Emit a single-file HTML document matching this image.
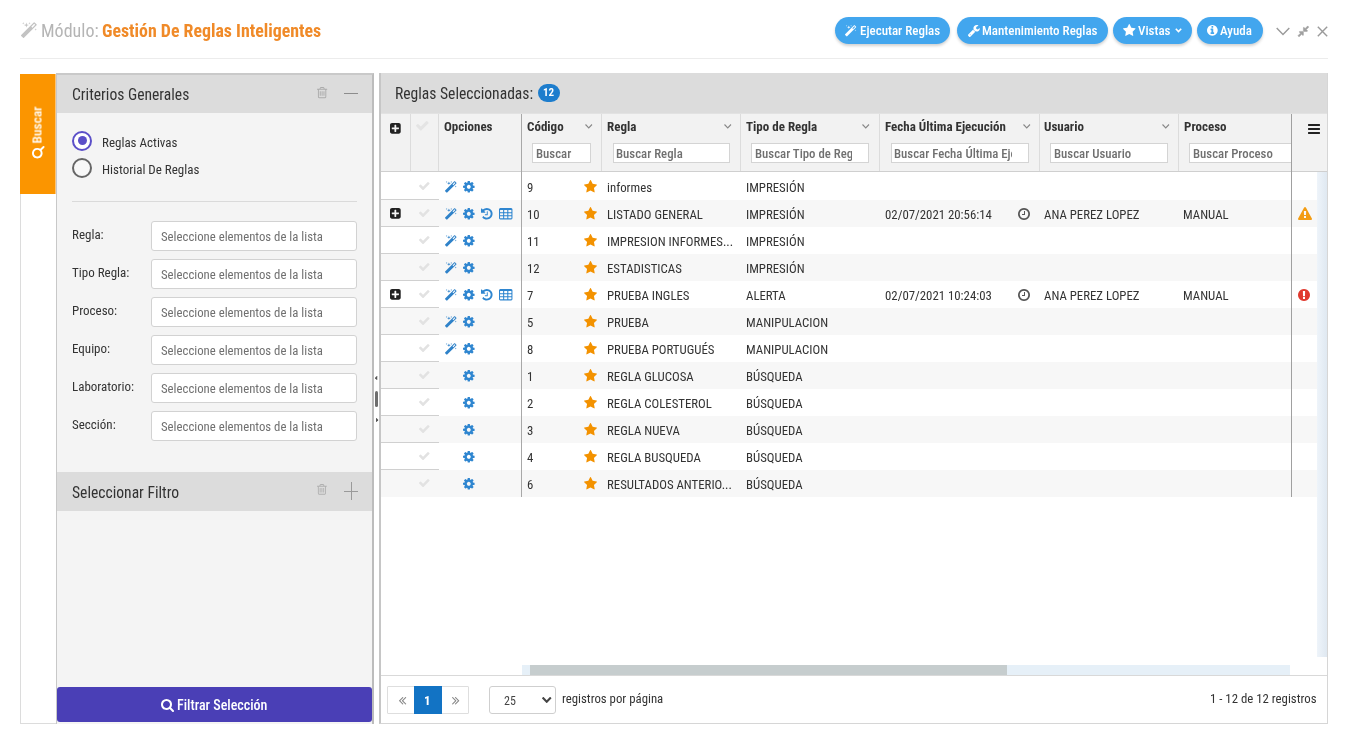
<!DOCTYPE html>
<html lang="es"><head><meta charset="utf-8"><title>Gestión De Reglas Inteligentes</title>
<style>
*{box-sizing:border-box;margin:0;padding:0}
html,body{width:1348px;height:742px;overflow:hidden;background:#fff}
body{position:relative;font-family:"Roboto Condensed", "Liberation Sans", Arial, sans-serif;color:#333}
.t{position:absolute;white-space:nowrap;will-change:transform}
.b{position:absolute}
.i{position:absolute;overflow:visible}
</style></head>
<body>
<svg class="i" style="left:20.60px;top:21.50px;width:15.99px;height:15.99px;" viewBox="27.0 -1536 1637.0 1637.0" preserveAspectRatio="none"><path fill="#c3c3c3"  transform="scale(1,-1)" d="M1190 955 1483 1248 1376 1355 1083 1062ZM1619 1203 333 -83Q315 -101 288.0 -101.0Q261 -101 243 -83L45 115Q27 133 27.0 160.0Q27 187 45 205L1331 1491Q1349 1509 1376.0 1509.0Q1403 1509 1421 1491L1619 1293Q1637 1275 1637.0 1248.0Q1637 1221 1619 1203ZM286 1438 384 1408 286 1378 256 1280 226 1378 128 1408 226 1438 256 1536ZM636 1276 832 1216 636 1156 576 960 516 1156 320 1216 516 1276 576 1472ZM1566 798 1664 768 1566 738 1536 640 1506 738 1408 768 1506 798 1536 896ZM926 1438 1024 1408 926 1378 896 1280 866 1378 768 1408 866 1438 896 1536Z"/></svg>
<div class="t" style="left:41.20px;top:17.05px;font-size:18px;line-height:27px;color:#b5b5b5;font-weight:400;">Módulo:</div>
<div class="t" style="left:102.40px;top:17.10px;font-size:17.85px;line-height:27px;color:#f08a28;font-weight:700;">Gestión De Reglas Inteligentes</div>
<div class="b" style="left:20px;top:58px;width:1308px;height:1px;background:#ececec"></div>
<div class="b" style="left:835px;top:17px;width:115px;height:27px;background:#42a6ee;border-radius:14px;box-shadow:0 2px 3px rgba(0,0,0,.18)"></div>
<svg class="i" style="left:845.00px;top:25.00px;width:11.42px;height:11.42px;" viewBox="27.0 -1536 1637.0 1637.0" preserveAspectRatio="none"><path fill="#fff"  transform="scale(1,-1)" d="M1190 955 1483 1248 1376 1355 1083 1062ZM1619 1203 333 -83Q315 -101 288.0 -101.0Q261 -101 243 -83L45 115Q27 133 27.0 160.0Q27 187 45 205L1331 1491Q1349 1509 1376.0 1509.0Q1403 1509 1421 1491L1619 1293Q1637 1275 1637.0 1248.0Q1637 1221 1619 1203ZM286 1438 384 1408 286 1378 256 1280 226 1378 128 1408 226 1438 256 1536ZM636 1276 832 1216 636 1156 576 960 516 1156 320 1216 516 1276 576 1472ZM1566 798 1664 768 1566 738 1536 640 1506 738 1408 768 1506 798 1536 896ZM926 1438 1024 1408 926 1378 896 1280 866 1378 768 1408 866 1438 896 1536Z"/></svg>
<div class="t" style="left:860.00px;top:21.36px;font-size:13px;line-height:20px;color:#fff;font-weight:500;">Ejecutar Reglas</div>
<div class="b" style="left:957px;top:17px;width:151px;height:27px;background:#42a6ee;border-radius:14px;box-shadow:0 2px 3px rgba(0,0,0,.18)"></div>
<svg class="i" style="left:967.70px;top:25.00px;width:11.90px;height:11.92px;" viewBox="21 -1408 1641 1643" preserveAspectRatio="none"><path fill="#fff"  transform="scale(1,-1)" d="M365.0 19.0Q384 38 384.0 64.0Q384 90 365.0 109.0Q346 128 320.0 128.0Q294 128 275.0 109.0Q256 90 256.0 64.0Q256 38 275.0 19.0Q294 0 320.0 0.0Q346 0 365.0 19.0ZM1028 484 346 -198Q309 -235 256 -235Q204 -235 165 -198L59 -90Q21 -54 21 0Q21 53 59 91L740 772Q779 674 854.5 598.5Q930 523 1028 484ZM1662 919Q1662 880 1639 813Q1592 679 1474.5 595.5Q1357 512 1216 512Q1031 512 899.5 643.5Q768 775 768.0 960.0Q768 1145 899.5 1276.5Q1031 1408 1216 1408Q1274 1408 1337.5 1391.5Q1401 1375 1445 1345Q1461 1334 1461.0 1317.0Q1461 1300 1445 1289L1152 1120V896L1345 789Q1350 792 1424.0 837.5Q1498 883 1559.5 918.5Q1621 954 1630 954Q1645 954 1653.5 944.0Q1662 934 1662 919Z"/></svg>
<div class="t" style="left:982.30px;top:21.36px;font-size:13px;line-height:20px;color:#fff;font-weight:500;">Mantenimiento Reglas</div>
<div class="b" style="left:1113px;top:17px;width:79px;height:27px;background:#42a6ee;border-radius:14px;box-shadow:0 2px 3px rgba(0,0,0,.18)"></div>
<svg class="i" style="left:1122.70px;top:23.90px;width:12.54px;height:11.96px;" viewBox="0 -1504.0 1664 1587.0" preserveAspectRatio="none"><path fill="#fff"  transform="scale(1,-1)" d="M1664 889Q1664 867 1638 841L1275 487L1361 -13Q1362 -20 1362 -33Q1362 -54 1351.5 -68.5Q1341 -83 1321 -83Q1302 -83 1281 -71L832 165L383 -71Q361 -83 343 -83Q322 -83 311.5 -68.5Q301 -54 301 -33Q301 -27 303 -13L389 487L25 841Q0 868 0 889Q0 926 56 935L558 1008L783 1463Q802 1504 832.0 1504.0Q862 1504 881 1463L1106 1008L1608 935Q1664 926 1664 889Z"/></svg>
<div class="t" style="left:1137.70px;top:21.36px;font-size:13px;line-height:20px;color:#fff;font-weight:500;">Vistas</div>
<div class="b" style="left:1197px;top:17px;width:66px;height:27px;background:#42a6ee;border-radius:14px;box-shadow:0 2px 3px rgba(0,0,0,.18)"></div>
<svg class="i" style="left:1206.50px;top:25.40px;width:10.71px;height:10.71px;" viewBox="0.0 -1408.0 1536.0 1536.0" preserveAspectRatio="none"><path fill="#fff"  transform="scale(1,-1)" d="M1024 160V320Q1024 334 1015.0 343.0Q1006 352 992 352H896V864Q896 878 887.0 887.0Q878 896 864 896H544Q530 896 521.0 887.0Q512 878 512 864V704Q512 690 521.0 681.0Q530 672 544 672H640V352H544Q530 352 521.0 343.0Q512 334 512 320V160Q512 146 521.0 137.0Q530 128 544 128H992Q1006 128 1015.0 137.0Q1024 146 1024 160ZM896 1056V1216Q896 1230 887.0 1239.0Q878 1248 864 1248H672Q658 1248 649.0 1239.0Q640 1230 640 1216V1056Q640 1042 649.0 1033.0Q658 1024 672 1024H864Q878 1024 887.0 1033.0Q896 1042 896 1056ZM1433.0 1025.5Q1536 849 1536.0 640.0Q1536 431 1433.0 254.5Q1330 78 1153.5 -25.0Q977 -128 768.0 -128.0Q559 -128 382.5 -25.0Q206 78 103.0 254.5Q0 431 0.0 640.0Q0 849 103.0 1025.5Q206 1202 382.5 1305.0Q559 1408 768.0 1408.0Q977 1408 1153.5 1305.0Q1330 1202 1433.0 1025.5Z"/></svg>
<div class="t" style="left:1220.30px;top:21.36px;font-size:13px;line-height:20px;color:#fff;font-weight:500;">Ayuda</div>
<svg class="i" style="left:1175px;top:28px;width:7px;height:5px" viewBox="0 0 7 5"><polyline points="0.8,0.8 3.5,3.6 6.2,0.8" fill="none" stroke="#fff" stroke-width="1.6"/></svg>
<svg class="i" style="left:1276px;top:27px;width:14px;height:9px" viewBox="0 0 14 9"><polyline points="0.7,1 7,7.5 13.3,1" fill="none" stroke="#9a9a9a" stroke-width="1.4"/></svg>
<svg class="i" style="left:1298.30px;top:26.20px;width:10.79px;height:10.79px;" viewBox="13.0 -1395.0 1510.0 1510.0" preserveAspectRatio="none"><path fill="#a0a0a0" stroke="#a0a0a0" stroke-width="70" stroke-linejoin="round" transform="scale(1,-1)" d="M768 576V128Q768 102 749.0 83.0Q730 64 704.0 64.0Q678 64 659 83L515 227L183 -105Q173 -115 160.0 -115.0Q147 -115 137 -105L23 9Q13 19 13.0 32.0Q13 45 23 55L355 387L211 531Q192 550 192.0 576.0Q192 602 211.0 621.0Q230 640 256 640H704Q730 640 749.0 621.0Q768 602 768 576ZM1513 1225 1181 893 1325 749Q1344 730 1344.0 704.0Q1344 678 1325.0 659.0Q1306 640 1280 640H832Q806 640 787.0 659.0Q768 678 768 704V1152Q768 1178 787.0 1197.0Q806 1216 832.0 1216.0Q858 1216 877 1197L1021 1053L1353 1385Q1363 1395 1376.0 1395.0Q1389 1395 1399 1385L1513 1271Q1523 1261 1523.0 1248.0Q1523 1235 1513 1225Z"/></svg>
<svg class="i" style="left:1317px;top:26px;width:11px;height:11px" viewBox="0 0 11 11"><path d="M0.8,0.8 L10.2,10.2 M10.2,0.8 L0.8,10.2" fill="none" stroke="#9a9a9a" stroke-width="1.4"/></svg>
<div class="b" style="left:20px;top:74px;width:36px;height:120px;background:#fb9500;border-right:1px solid #fcc57a"></div>
<div class="t" style="left:37.2px;top:125px;font-size:13.5px;line-height:13px;color:#fff;font-weight:500;transform:translate(-50%,-50%) rotate(-90deg);">Buscar</div>
<svg class="i" style="left:32.00px;top:146.00px;width:12.54px;height:12.54px;transform:rotate(-90deg)" viewBox="0.0 -1408.0 1664.0 1664.0" preserveAspectRatio="none"><path fill="#fff"  transform="scale(1,-1)" d="M1020.5 387.5Q1152 519 1152.0 704.0Q1152 889 1020.5 1020.5Q889 1152 704.0 1152.0Q519 1152 387.5 1020.5Q256 889 256.0 704.0Q256 519 387.5 387.5Q519 256 704.0 256.0Q889 256 1020.5 387.5ZM1664 -128Q1664 -180 1626.0 -218.0Q1588 -256 1536 -256Q1482 -256 1446 -218L1103 124Q924 0 704 0Q561 0 430.5 55.5Q300 111 205.5 205.5Q111 300 55.5 430.5Q0 561 0.0 704.0Q0 847 55.5 977.5Q111 1108 205.5 1202.5Q300 1297 430.5 1352.5Q561 1408 704.0 1408.0Q847 1408 977.5 1352.5Q1108 1297 1202.5 1202.5Q1297 1108 1352.5 977.5Q1408 847 1408 704Q1408 484 1284 305L1627 -38Q1664 -75 1664 -128Z"/></svg>
<div class="b" style="left:20px;top:194px;width:36px;height:530px;border-left:1px solid #dcdcdc;border-bottom:1px solid #dcdcdc"></div>
<div class="b" style="left:56px;top:73px;width:318px;height:651px;background:#f4f4f4;border-left:1px solid #c8c8c8;border-right:2px solid #bcbcbc;border-top:2px solid #c9c9c9"></div>
<div class="b" style="left:57px;top:75px;width:315px;height:38px;background:#dcdcdc"></div>
<div class="t" style="left:71.80px;top:83.57px;font-size:15.6px;line-height:23px;color:#333;font-weight:400;">Criterios Generales</div>
<svg class="i" style="left:316.80px;top:87.30px;width:10.21px;height:11.14px;" viewBox="0 -1408 1408 1536" preserveAspectRatio="none"><path fill="#ababab"  transform="scale(1,-1)" d="M512 800V224Q512 210 503.0 201.0Q494 192 480 192H416Q402 192 393.0 201.0Q384 210 384 224V800Q384 814 393.0 823.0Q402 832 416 832H480Q494 832 503.0 823.0Q512 814 512 800ZM768 800V224Q768 210 759.0 201.0Q750 192 736 192H672Q658 192 649.0 201.0Q640 210 640 224V800Q640 814 649.0 823.0Q658 832 672 832H736Q750 832 759.0 823.0Q768 814 768 800ZM1024 800V224Q1024 210 1015.0 201.0Q1006 192 992 192H928Q914 192 905.0 201.0Q896 210 896 224V800Q896 814 905.0 823.0Q914 832 928 832H992Q1006 832 1015.0 823.0Q1024 814 1024 800ZM1152 76V1024H256V76Q256 54 263.0 35.5Q270 17 277.5 8.5Q285 0 288 0H1120Q1123 0 1130.5 8.5Q1138 17 1145.0 35.5Q1152 54 1152 76ZM480 1152H928L880 1269Q873 1278 863 1280H546Q536 1278 529 1269ZM1408 1120V1056Q1408 1042 1399.0 1033.0Q1390 1024 1376 1024H1280V76Q1280 -7 1233.0 -67.5Q1186 -128 1120 -128H288Q222 -128 175.0 -69.5Q128 -11 128 72V1024H32Q18 1024 9.0 1033.0Q0 1042 0 1056V1120Q0 1134 9.0 1143.0Q18 1152 32 1152H341L411 1319Q426 1356 465.0 1382.0Q504 1408 544 1408H864Q904 1408 943.0 1382.0Q982 1356 997 1319L1067 1152H1376Q1390 1152 1399.0 1143.0Q1408 1134 1408 1120Z"/></svg>
<div class="b" style="left:344px;top:93px;width:14px;height:1px;background:#8c8c8c"></div>
<div class="b" style="left:72px;top:130.6px;width:20px;height:20px;border:2px solid #5b4fc8;border-radius:50%;background:#fff"></div>
<div class="b" style="left:77.5px;top:136.1px;width:9px;height:9px;background:#5b4fc8;border-radius:50%"></div>
<div class="t" style="left:101.80px;top:132.56px;font-size:13px;line-height:20px;color:#333;font-weight:400;">Reglas Activas</div>
<div class="b" style="left:72px;top:158px;width:20px;height:20px;border:2px solid #666;border-radius:50%;background:#f8f8f8"></div>
<div class="t" style="left:101.80px;top:159.76px;font-size:13px;line-height:20px;color:#333;font-weight:400;">Historial De Reglas</div>
<div class="b" style="left:72px;top:201px;width:285px;height:1px;background:#dadada"></div>
<div class="t" style="left:71.60px;top:225.46px;font-size:13px;line-height:20px;color:#333;font-weight:400;">Regla:</div>
<div class="b" style="left:151px;top:221px;width:206px;height:30px;background:#fff;border:1px solid #d2d2d2;border-radius:3px"></div>
<div class="t" style="left:160.60px;top:227.24px;font-size:12.75px;line-height:19px;color:#707070;font-weight:400;">Seleccione elementos de la lista</div>
<div class="t" style="left:71.60px;top:263.46px;font-size:13px;line-height:20px;color:#333;font-weight:400;">Tipo Regla:</div>
<div class="b" style="left:151px;top:259px;width:206px;height:30px;background:#fff;border:1px solid #d2d2d2;border-radius:3px"></div>
<div class="t" style="left:160.60px;top:265.24px;font-size:12.75px;line-height:19px;color:#707070;font-weight:400;">Seleccione elementos de la lista</div>
<div class="t" style="left:71.60px;top:301.46px;font-size:13px;line-height:20px;color:#333;font-weight:400;">Proceso:</div>
<div class="b" style="left:151px;top:297px;width:206px;height:30px;background:#fff;border:1px solid #d2d2d2;border-radius:3px"></div>
<div class="t" style="left:160.60px;top:303.24px;font-size:12.75px;line-height:19px;color:#707070;font-weight:400;">Seleccione elementos de la lista</div>
<div class="t" style="left:71.60px;top:339.46px;font-size:13px;line-height:20px;color:#333;font-weight:400;">Equipo:</div>
<div class="b" style="left:151px;top:335px;width:206px;height:30px;background:#fff;border:1px solid #d2d2d2;border-radius:3px"></div>
<div class="t" style="left:160.60px;top:341.24px;font-size:12.75px;line-height:19px;color:#707070;font-weight:400;">Seleccione elementos de la lista</div>
<div class="t" style="left:71.60px;top:377.46px;font-size:13px;line-height:20px;color:#333;font-weight:400;">Laboratorio:</div>
<div class="b" style="left:151px;top:373px;width:206px;height:30px;background:#fff;border:1px solid #d2d2d2;border-radius:3px"></div>
<div class="t" style="left:160.60px;top:379.24px;font-size:12.75px;line-height:19px;color:#707070;font-weight:400;">Seleccione elementos de la lista</div>
<div class="t" style="left:71.60px;top:415.46px;font-size:13px;line-height:20px;color:#333;font-weight:400;">Sección:</div>
<div class="b" style="left:151px;top:411px;width:206px;height:30px;background:#fff;border:1px solid #d2d2d2;border-radius:3px"></div>
<div class="t" style="left:160.60px;top:417.24px;font-size:12.75px;line-height:19px;color:#707070;font-weight:400;">Seleccione elementos de la lista</div>
<div class="b" style="left:57px;top:472px;width:315px;height:38.5px;background:#dcdcdc"></div>
<div class="t" style="left:71.80px;top:481.67px;font-size:15.6px;line-height:23px;color:#333;font-weight:400;">Seleccionar Filtro</div>
<svg class="i" style="left:316.70px;top:484.30px;width:9.82px;height:10.71px;" viewBox="0 -1408 1408 1536" preserveAspectRatio="none"><path fill="#b0b0b0"  transform="scale(1,-1)" d="M512 800V224Q512 210 503.0 201.0Q494 192 480 192H416Q402 192 393.0 201.0Q384 210 384 224V800Q384 814 393.0 823.0Q402 832 416 832H480Q494 832 503.0 823.0Q512 814 512 800ZM768 800V224Q768 210 759.0 201.0Q750 192 736 192H672Q658 192 649.0 201.0Q640 210 640 224V800Q640 814 649.0 823.0Q658 832 672 832H736Q750 832 759.0 823.0Q768 814 768 800ZM1024 800V224Q1024 210 1015.0 201.0Q1006 192 992 192H928Q914 192 905.0 201.0Q896 210 896 224V800Q896 814 905.0 823.0Q914 832 928 832H992Q1006 832 1015.0 823.0Q1024 814 1024 800ZM1152 76V1024H256V76Q256 54 263.0 35.5Q270 17 277.5 8.5Q285 0 288 0H1120Q1123 0 1130.5 8.5Q1138 17 1145.0 35.5Q1152 54 1152 76ZM480 1152H928L880 1269Q873 1278 863 1280H546Q536 1278 529 1269ZM1408 1120V1056Q1408 1042 1399.0 1033.0Q1390 1024 1376 1024H1280V76Q1280 -7 1233.0 -67.5Q1186 -128 1120 -128H288Q222 -128 175.0 -69.5Q128 -11 128 72V1024H32Q18 1024 9.0 1033.0Q0 1042 0 1056V1120Q0 1134 9.0 1143.0Q18 1152 32 1152H341L411 1319Q426 1356 465.0 1382.0Q504 1408 544 1408H864Q904 1408 943.0 1382.0Q982 1356 997 1319L1067 1152H1376Q1390 1152 1399.0 1143.0Q1408 1134 1408 1120Z"/></svg>
<div class="b" style="left:344px;top:491px;width:14px;height:1px;background:#9a9a9a"></div>
<div class="b" style="left:350.5px;top:482px;width:1px;height:18px;background:#9a9a9a"></div>
<div class="b" style="left:57px;top:687px;width:315px;height:35px;background:#4a3fb6;border-radius:3px"></div>
<svg class="i" style="left:160.70px;top:699.20px;width:13.00px;height:13.00px;" viewBox="0.0 -1408.0 1664.0 1664.0" preserveAspectRatio="none"><path fill="#fff"  transform="scale(1,-1)" d="M1020.5 387.5Q1152 519 1152.0 704.0Q1152 889 1020.5 1020.5Q889 1152 704.0 1152.0Q519 1152 387.5 1020.5Q256 889 256.0 704.0Q256 519 387.5 387.5Q519 256 704.0 256.0Q889 256 1020.5 387.5ZM1664 -128Q1664 -180 1626.0 -218.0Q1588 -256 1536 -256Q1482 -256 1446 -218L1103 124Q924 0 704 0Q561 0 430.5 55.5Q300 111 205.5 205.5Q111 300 55.5 430.5Q0 561 0.0 704.0Q0 847 55.5 977.5Q111 1108 205.5 1202.5Q300 1297 430.5 1352.5Q561 1408 704.0 1408.0Q847 1408 977.5 1352.5Q1108 1297 1202.5 1202.5Q1297 1108 1352.5 977.5Q1408 847 1408 704Q1408 484 1284 305L1627 -38Q1664 -75 1664 -128Z"/></svg>
<div class="t" style="left:177.20px;top:695.01px;font-size:14px;line-height:21px;color:#fff;font-weight:500;">Filtrar Selección</div>
<svg class="i" style="left:375.00px;top:376.00px;width:2.25px;height:4.00px;" viewBox="64.0 -1152.0 576.0 1024.0" preserveAspectRatio="none"><path fill="#555"  transform="scale(1,-1)" d="M640 1088V192Q640 166 621.0 147.0Q602 128 576.0 128.0Q550 128 531 147L83 595Q64 614 64.0 640.0Q64 666 83 685L531 1133Q550 1152 576.0 1152.0Q602 1152 621.0 1133.0Q640 1114 640 1088Z"/></svg>
<div class="b" style="left:375px;top:391px;width:3px;height:16px;background:#6e6e6e;border-radius:2px"></div>
<svg class="i" style="left:375.50px;top:417.50px;width:2.25px;height:4.00px;" viewBox="0 -1152.0 576.0 1024.0" preserveAspectRatio="none"><path fill="#555"  transform="scale(1,-1)" d="M557 595 109 147Q90 128 64.0 128.0Q38 128 19.0 147.0Q0 166 0 192V1088Q0 1114 19.0 1133.0Q38 1152 64.0 1152.0Q90 1152 109 1133L557 685Q576 666 576.0 640.0Q576 614 557 595Z"/></svg>
<div class="b" style="left:379px;top:73px;width:949px;height:651px;background:#fff;border-left:2px solid #c6c6c6;border-right:1px solid #d6d6d6;border-bottom:1px solid #d6d6d6"></div>
<div class="b" style="left:381px;top:73px;width:946px;height:40px;background:#dcdcdc"></div>
<div class="t" style="left:394.80px;top:83.27px;font-size:15.6px;line-height:23px;color:#333;font-weight:400;">Reglas Seleccionadas:</div>
<div class="b" style="left:538px;top:84px;width:22px;height:18px;background:#1d7dcd;border-radius:9px"></div>
<div class="t" style="left:543.20px;top:85.44px;font-size:11px;line-height:16px;color:#fff;font-weight:700;">12</div>
<div class="b" style="left:381px;top:113px;width:946px;height:59px;background:#f2f2f2;border-top:1px solid #e2e2e2;border-bottom:1px solid #cfcfcf"></div>
<div class="b" style="left:410px;top:114px;width:1px;height:57px;background:#dcdcdc"></div>
<div class="b" style="left:438px;top:114px;width:1px;height:57px;background:#dcdcdc"></div>
<div class="b" style="left:601px;top:114px;width:1px;height:57px;background:#dcdcdc"></div>
<div class="b" style="left:740px;top:114px;width:1px;height:57px;background:#dcdcdc"></div>
<div class="b" style="left:879px;top:114px;width:1px;height:57px;background:#dcdcdc"></div>
<div class="b" style="left:1039px;top:114px;width:1px;height:57px;background:#dcdcdc"></div>
<div class="b" style="left:1178px;top:114px;width:1px;height:57px;background:#dcdcdc"></div>
<div class="t" style="left:444.00px;top:116.56px;font-size:13px;line-height:20px;color:#333;font-weight:700;">Opciones</div>
<div class="t" style="left:527.00px;top:116.56px;font-size:13px;line-height:20px;color:#333;font-weight:700;">Código</div>
<div class="t" style="left:606.60px;top:116.56px;font-size:13px;line-height:20px;color:#333;font-weight:700;">Regla</div>
<div class="t" style="left:746.40px;top:116.56px;font-size:13px;line-height:20px;color:#333;font-weight:700;">Tipo de Regla</div>
<div class="t" style="left:884.80px;top:116.56px;font-size:13px;line-height:20px;color:#333;font-weight:700;">Fecha Última Ejecución</div>
<div class="t" style="left:1044.40px;top:116.56px;font-size:13px;line-height:20px;color:#333;font-weight:700;">Usuario</div>
<div class="t" style="left:1183.60px;top:116.56px;font-size:13px;line-height:20px;color:#333;font-weight:700;">Proceso</div>
<svg class="i" style="left:584.5px;top:124px;width:7.5px;height:4.5px" viewBox="0 0 7.5 4.5"><polyline points="0.5,0.5 3.75,3.9 7,0.5" fill="none" stroke="#888" stroke-width="1.1"/></svg>
<svg class="i" style="left:723.5px;top:124px;width:7.5px;height:4.5px" viewBox="0 0 7.5 4.5"><polyline points="0.5,0.5 3.75,3.9 7,0.5" fill="none" stroke="#888" stroke-width="1.1"/></svg>
<svg class="i" style="left:862.3px;top:124px;width:7.5px;height:4.5px" viewBox="0 0 7.5 4.5"><polyline points="0.5,0.5 3.75,3.9 7,0.5" fill="none" stroke="#888" stroke-width="1.1"/></svg>
<svg class="i" style="left:1022.5px;top:124px;width:7.5px;height:4.5px" viewBox="0 0 7.5 4.5"><polyline points="0.5,0.5 3.75,3.9 7,0.5" fill="none" stroke="#888" stroke-width="1.1"/></svg>
<svg class="i" style="left:1161.5px;top:124px;width:7.5px;height:4.5px" viewBox="0 0 7.5 4.5"><polyline points="0.5,0.5 3.75,3.9 7,0.5" fill="none" stroke="#888" stroke-width="1.1"/></svg>
<div class="b" style="left:532px;top:143px;width:59px;height:20px;background:#fff;border:1px solid #d4d4d4;overflow:hidden"><div class="b" style="left:0;top:0;width:41px;height:18px;overflow:hidden"><div class="t" style="left:2.5px;top:-1px;font-size:12.8px;line-height:22px;color:#707070;font-weight:500">Buscar</div></div></div>
<div class="b" style="left:612.5px;top:143px;width:117.5px;height:20px;background:#fff;border:1px solid #d4d4d4;overflow:hidden"><div class="b" style="left:0;top:0;width:99.5px;height:18px;overflow:hidden"><div class="t" style="left:2.5px;top:-1px;font-size:12.8px;line-height:22px;color:#707070;font-weight:500">Buscar Regla</div></div></div>
<div class="b" style="left:751px;top:143px;width:118px;height:20px;background:#fff;border:1px solid #d4d4d4;overflow:hidden"><div class="b" style="left:0;top:0;width:100px;height:18px;overflow:hidden"><div class="t" style="left:2.5px;top:-1px;font-size:12.8px;line-height:22px;color:#707070;font-weight:500">Buscar Tipo de Regla</div></div></div>
<div class="b" style="left:890.5px;top:143px;width:138.5px;height:20px;background:#fff;border:1px solid #d4d4d4;overflow:hidden"><div class="b" style="left:0;top:0;width:120.5px;height:18px;overflow:hidden"><div class="t" style="left:2.5px;top:-1px;font-size:12.8px;line-height:22px;color:#707070;font-weight:500">Buscar Fecha Última Ejecución</div></div></div>
<div class="b" style="left:1050px;top:143px;width:118px;height:20px;background:#fff;border:1px solid #d4d4d4;overflow:hidden"><div class="b" style="left:0;top:0;width:100px;height:18px;overflow:hidden"><div class="t" style="left:2.5px;top:-1px;font-size:12.8px;line-height:22px;color:#707070;font-weight:500">Buscar Usuario</div></div></div>
<div class="b" style="left:1189px;top:143px;width:121px;height:20px;background:#fff;border:1px solid #d4d4d4;overflow:hidden"><div class="b" style="left:0;top:0;width:103px;height:18px;overflow:hidden"><div class="t" style="left:2.5px;top:-1px;font-size:12.8px;line-height:22px;color:#707070;font-weight:500">Buscar Proceso</div></div></div>
<svg class="i" style="left:390.00px;top:123.00px;width:10.71px;height:10.71px;" viewBox="0 -1408 1536 1536" preserveAspectRatio="none"><path fill="#222"  transform="scale(1,-1)" d="M1280 576V704Q1280 730 1261.0 749.0Q1242 768 1216 768H896V1088Q896 1114 877.0 1133.0Q858 1152 832 1152H704Q678 1152 659.0 1133.0Q640 1114 640 1088V768H320Q294 768 275.0 749.0Q256 730 256 704V576Q256 550 275.0 531.0Q294 512 320 512H640V192Q640 166 659.0 147.0Q678 128 704 128H832Q858 128 877.0 147.0Q896 166 896 192V512H1216Q1242 512 1261.0 531.0Q1280 550 1280 576ZM1536 1120V160Q1536 41 1451.5 -43.5Q1367 -128 1248 -128H288Q169 -128 84.5 -43.5Q0 41 0 160V1120Q0 1239 84.5 1323.5Q169 1408 288 1408H1248Q1367 1408 1451.5 1323.5Q1536 1239 1536 1120Z"/></svg>
<svg class="i" style="left:416.30px;top:120.90px;width:12.54px;height:9.61px;" viewBox="121.0 -1202.0 1550.0 1188.0" preserveAspectRatio="none"><path fill="#e4e4e4"  transform="scale(1,-1)" d="M1643 902 919 178 783 42Q755 14 715.0 14.0Q675 14 647 42L511 178L149 540Q121 568 121.0 608.0Q121 648 149 676L285 812Q313 840 353.0 840.0Q393 840 421 812L715 517L1371 1174Q1399 1202 1439.0 1202.0Q1479 1202 1507 1174L1643 1038Q1671 1010 1671.0 970.0Q1671 930 1643 902Z"/></svg>
<div class="b" style="left:381px;top:199px;width:58px;height:1px;background:#d0d0d0"></div>
<svg class="i" style="left:419.20px;top:181.80px;width:10.55px;height:8.09px;" viewBox="121.0 -1202.0 1550.0 1188.0" preserveAspectRatio="none"><path fill="#e2e2e2"  transform="scale(1,-1)" d="M1643 902 919 178 783 42Q755 14 715.0 14.0Q675 14 647 42L511 178L149 540Q121 568 121.0 608.0Q121 648 149 676L285 812Q313 840 353.0 840.0Q393 840 421 812L715 517L1371 1174Q1399 1202 1439.0 1202.0Q1479 1202 1507 1174L1643 1038Q1671 1010 1671.0 970.0Q1671 930 1643 902Z"/></svg>
<svg class="i" style="left:445.30px;top:181.00px;width:11.69px;height:11.69px;" viewBox="27.0 -1536 1637.0 1637.0" preserveAspectRatio="none"><path fill="#2f82c9"  transform="scale(1,-1)" d="M1190 955 1483 1248 1376 1355 1083 1062ZM1619 1203 333 -83Q315 -101 288.0 -101.0Q261 -101 243 -83L45 115Q27 133 27.0 160.0Q27 187 45 205L1331 1491Q1349 1509 1376.0 1509.0Q1403 1509 1421 1491L1619 1293Q1637 1275 1637.0 1248.0Q1637 1221 1619 1203ZM286 1438 384 1408 286 1378 256 1280 226 1378 128 1408 226 1438 256 1536ZM636 1276 832 1216 636 1156 576 960 516 1156 320 1216 516 1276 576 1472ZM1566 798 1664 768 1566 738 1536 640 1506 738 1408 768 1506 798 1536 896ZM926 1438 1024 1408 926 1378 896 1280 866 1378 768 1408 866 1438 896 1536Z"/></svg>
<svg class="i" style="left:463.10px;top:180.70px;width:11.57px;height:11.57px;" viewBox="0 -1408 1536 1536" preserveAspectRatio="none"><path fill="#2f86d0"  transform="scale(1,-1)" d="M949.0 459.0Q1024 534 1024.0 640.0Q1024 746 949.0 821.0Q874 896 768.0 896.0Q662 896 587.0 821.0Q512 746 512.0 640.0Q512 534 587.0 459.0Q662 384 768.0 384.0Q874 384 949.0 459.0ZM1536 749V527Q1536 515 1528.0 504.0Q1520 493 1508 491L1323 463Q1304 409 1284 372Q1319 322 1391 234Q1401 222 1401.0 209.0Q1401 196 1392 186Q1365 149 1293.0 78.0Q1221 7 1199 7Q1187 7 1173 16L1035 124Q991 101 944 86Q928 -50 915 -100Q908 -128 879 -128H657Q643 -128 632.5 -119.5Q622 -111 621 -98L593 86Q544 102 503 123L362 16Q352 7 337 7Q323 7 312 18Q186 132 147 186Q140 196 140 209Q140 221 148 232Q163 253 199.0 298.5Q235 344 253 369Q226 419 212 468L29 495Q16 497 8.0 507.5Q0 518 0 531V753Q0 765 8.0 776.0Q16 787 27 789L213 817Q227 863 252 909Q212 966 145 1047Q135 1059 135 1071Q135 1081 144 1094Q170 1130 242.5 1201.5Q315 1273 337 1273Q350 1273 363 1263L501 1156Q545 1179 592 1194Q608 1330 621 1380Q628 1408 657 1408H879Q893 1408 903.5 1399.5Q914 1391 915 1378L943 1194Q992 1178 1033 1157L1175 1264Q1184 1273 1199 1273Q1212 1273 1224 1263Q1353 1144 1389 1093Q1396 1085 1396 1071Q1396 1059 1388 1048Q1373 1027 1337.0 981.5Q1301 936 1283 911Q1309 861 1324 813L1507 785Q1520 783 1528.0 772.5Q1536 762 1536 749Z"/></svg>
<div class="t" style="left:526.80px;top:177.72px;font-size:12.8px;line-height:19px;color:#333;font-weight:400;">9</div>
<svg class="i" style="left:584.00px;top:180.10px;width:13.00px;height:12.40px;" viewBox="0 -1504.0 1664 1587.0" preserveAspectRatio="none"><path fill="#f39200"  transform="scale(1,-1)" d="M1664 889Q1664 867 1638 841L1275 487L1361 -13Q1362 -20 1362 -33Q1362 -54 1351.5 -68.5Q1341 -83 1321 -83Q1302 -83 1281 -71L832 165L383 -71Q361 -83 343 -83Q322 -83 311.5 -68.5Q301 -54 301 -33Q301 -27 303 -13L389 487L25 841Q0 868 0 889Q0 926 56 935L558 1008L783 1463Q802 1504 832.0 1504.0Q862 1504 881 1463L1106 1008L1608 935Q1664 926 1664 889Z"/></svg>
<div class="t" style="left:606.80px;top:177.72px;font-size:12.8px;line-height:19px;color:#333;font-weight:400;">informes</div>
<div class="t" style="left:745.80px;top:177.72px;font-size:12.8px;line-height:19px;color:#333;font-weight:400;">IMPRESIÓN</div>
<div class="b" style="left:381px;top:200px;width:936px;height:27px;background:#f7f7f7"></div>
<div class="b" style="left:381px;top:226px;width:58px;height:1px;background:#d0d0d0"></div>
<svg class="i" style="left:419.20px;top:208.80px;width:10.55px;height:8.09px;" viewBox="121.0 -1202.0 1550.0 1188.0" preserveAspectRatio="none"><path fill="#e2e2e2"  transform="scale(1,-1)" d="M1643 902 919 178 783 42Q755 14 715.0 14.0Q675 14 647 42L511 178L149 540Q121 568 121.0 608.0Q121 648 149 676L285 812Q313 840 353.0 840.0Q393 840 421 812L715 517L1371 1174Q1399 1202 1439.0 1202.0Q1479 1202 1507 1174L1643 1038Q1671 1010 1671.0 970.0Q1671 930 1643 902Z"/></svg>
<svg class="i" style="left:445.30px;top:208.00px;width:11.69px;height:11.69px;" viewBox="27.0 -1536 1637.0 1637.0" preserveAspectRatio="none"><path fill="#2f82c9"  transform="scale(1,-1)" d="M1190 955 1483 1248 1376 1355 1083 1062ZM1619 1203 333 -83Q315 -101 288.0 -101.0Q261 -101 243 -83L45 115Q27 133 27.0 160.0Q27 187 45 205L1331 1491Q1349 1509 1376.0 1509.0Q1403 1509 1421 1491L1619 1293Q1637 1275 1637.0 1248.0Q1637 1221 1619 1203ZM286 1438 384 1408 286 1378 256 1280 226 1378 128 1408 226 1438 256 1536ZM636 1276 832 1216 636 1156 576 960 516 1156 320 1216 516 1276 576 1472ZM1566 798 1664 768 1566 738 1536 640 1506 738 1408 768 1506 798 1536 896ZM926 1438 1024 1408 926 1378 896 1280 866 1378 768 1408 866 1438 896 1536Z"/></svg>
<svg class="i" style="left:463.10px;top:207.70px;width:11.57px;height:11.57px;" viewBox="0 -1408 1536 1536" preserveAspectRatio="none"><path fill="#2f86d0"  transform="scale(1,-1)" d="M949.0 459.0Q1024 534 1024.0 640.0Q1024 746 949.0 821.0Q874 896 768.0 896.0Q662 896 587.0 821.0Q512 746 512.0 640.0Q512 534 587.0 459.0Q662 384 768.0 384.0Q874 384 949.0 459.0ZM1536 749V527Q1536 515 1528.0 504.0Q1520 493 1508 491L1323 463Q1304 409 1284 372Q1319 322 1391 234Q1401 222 1401.0 209.0Q1401 196 1392 186Q1365 149 1293.0 78.0Q1221 7 1199 7Q1187 7 1173 16L1035 124Q991 101 944 86Q928 -50 915 -100Q908 -128 879 -128H657Q643 -128 632.5 -119.5Q622 -111 621 -98L593 86Q544 102 503 123L362 16Q352 7 337 7Q323 7 312 18Q186 132 147 186Q140 196 140 209Q140 221 148 232Q163 253 199.0 298.5Q235 344 253 369Q226 419 212 468L29 495Q16 497 8.0 507.5Q0 518 0 531V753Q0 765 8.0 776.0Q16 787 27 789L213 817Q227 863 252 909Q212 966 145 1047Q135 1059 135 1071Q135 1081 144 1094Q170 1130 242.5 1201.5Q315 1273 337 1273Q350 1273 363 1263L501 1156Q545 1179 592 1194Q608 1330 621 1380Q628 1408 657 1408H879Q893 1408 903.5 1399.5Q914 1391 915 1378L943 1194Q992 1178 1033 1157L1175 1264Q1184 1273 1199 1273Q1212 1273 1224 1263Q1353 1144 1389 1093Q1396 1085 1396 1071Q1396 1059 1388 1048Q1373 1027 1337.0 981.5Q1301 936 1283 911Q1309 861 1324 813L1507 785Q1520 783 1528.0 772.5Q1536 762 1536 749Z"/></svg>
<svg class="i" style="left:390.00px;top:208.00px;width:10.71px;height:10.71px;" viewBox="0 -1408 1536 1536" preserveAspectRatio="none"><path fill="#222"  transform="scale(1,-1)" d="M1280 576V704Q1280 730 1261.0 749.0Q1242 768 1216 768H896V1088Q896 1114 877.0 1133.0Q858 1152 832 1152H704Q678 1152 659.0 1133.0Q640 1114 640 1088V768H320Q294 768 275.0 749.0Q256 730 256 704V576Q256 550 275.0 531.0Q294 512 320 512H640V192Q640 166 659.0 147.0Q678 128 704 128H832Q858 128 877.0 147.0Q896 166 896 192V512H1216Q1242 512 1261.0 531.0Q1280 550 1280 576ZM1536 1120V160Q1536 41 1451.5 -43.5Q1367 -128 1248 -128H288Q169 -128 84.5 -43.5Q0 41 0 160V1120Q0 1239 84.5 1323.5Q169 1408 288 1408H1248Q1367 1408 1451.5 1323.5Q1536 1239 1536 1120Z"/></svg>
<svg class="i" style="left:481.00px;top:207.70px;width:11.57px;height:11.57px;" viewBox="0 -1408 1536.0 1536" preserveAspectRatio="none"><path fill="#2f86d0"  transform="scale(1,-1)" d="M768 -128Q596 -128 441.0 -55.5Q286 17 177 149Q170 159 170.5 171.5Q171 184 179 192L316 330Q326 339 341 339Q357 337 364 327Q437 232 543.0 180.0Q649 128 768 128Q872 128 966.5 168.5Q1061 209 1130.0 278.0Q1199 347 1239.5 441.5Q1280 536 1280.0 640.0Q1280 744 1239.5 838.5Q1199 933 1130.0 1002.0Q1061 1071 966.5 1111.5Q872 1152 768 1152Q670 1152 580.0 1116.5Q490 1081 420 1015L557 877Q588 847 571 808Q554 768 512 768H64Q38 768 19.0 787.0Q0 806 0 832V1280Q0 1322 40 1339Q79 1356 109 1325L239 1196Q346 1297 483.5 1352.5Q621 1408 768 1408Q924 1408 1066.0 1347.0Q1208 1286 1311.0 1183.0Q1414 1080 1475.0 938.0Q1536 796 1536.0 640.0Q1536 484 1475.0 342.0Q1414 200 1311.0 97.0Q1208 -6 1066.0 -67.0Q924 -128 768 -128ZM896 928V480Q896 466 887.0 457.0Q878 448 864 448H544Q530 448 521.0 457.0Q512 466 512 480V544Q512 558 521.0 567.0Q530 576 544 576H768V928Q768 942 777.0 951.0Q786 960 800 960H864Q878 960 887.0 951.0Q896 942 896 928Z"/></svg>
<svg class="i" style="left:498.50px;top:208.30px;width:13.46px;height:11.39px;" viewBox="0 -1408 1664 1408" preserveAspectRatio="none"><path fill="#2f86d0"  transform="scale(1,-1)" d="M512 160V352Q512 366 503.0 375.0Q494 384 480 384H160Q146 384 137.0 375.0Q128 366 128 352V160Q128 146 137.0 137.0Q146 128 160 128H480Q494 128 503.0 137.0Q512 146 512 160ZM512 544V736Q512 750 503.0 759.0Q494 768 480 768H160Q146 768 137.0 759.0Q128 750 128 736V544Q128 530 137.0 521.0Q146 512 160 512H480Q494 512 503.0 521.0Q512 530 512 544ZM1024 160V352Q1024 366 1015.0 375.0Q1006 384 992 384H672Q658 384 649.0 375.0Q640 366 640 352V160Q640 146 649.0 137.0Q658 128 672 128H992Q1006 128 1015.0 137.0Q1024 146 1024 160ZM512 928V1120Q512 1134 503.0 1143.0Q494 1152 480 1152H160Q146 1152 137.0 1143.0Q128 1134 128 1120V928Q128 914 137.0 905.0Q146 896 160 896H480Q494 896 503.0 905.0Q512 914 512 928ZM1024 544V736Q1024 750 1015.0 759.0Q1006 768 992 768H672Q658 768 649.0 759.0Q640 750 640 736V544Q640 530 649.0 521.0Q658 512 672 512H992Q1006 512 1015.0 521.0Q1024 530 1024 544ZM1536 160V352Q1536 366 1527.0 375.0Q1518 384 1504 384H1184Q1170 384 1161.0 375.0Q1152 366 1152 352V160Q1152 146 1161.0 137.0Q1170 128 1184 128H1504Q1518 128 1527.0 137.0Q1536 146 1536 160ZM1024 928V1120Q1024 1134 1015.0 1143.0Q1006 1152 992 1152H672Q658 1152 649.0 1143.0Q640 1134 640 1120V928Q640 914 649.0 905.0Q658 896 672 896H992Q1006 896 1015.0 905.0Q1024 914 1024 928ZM1536 544V736Q1536 750 1527.0 759.0Q1518 768 1504 768H1184Q1170 768 1161.0 759.0Q1152 750 1152 736V544Q1152 530 1161.0 521.0Q1170 512 1184 512H1504Q1518 512 1527.0 521.0Q1536 530 1536 544ZM1536 928V1120Q1536 1134 1527.0 1143.0Q1518 1152 1504 1152H1184Q1170 1152 1161.0 1143.0Q1152 1134 1152 1120V928Q1152 914 1161.0 905.0Q1170 896 1184 896H1504Q1518 896 1527.0 905.0Q1536 914 1536 928ZM1664 1248V160Q1664 94 1617.0 47.0Q1570 0 1504 0H160Q94 0 47.0 47.0Q0 94 0 160V1248Q0 1314 47.0 1361.0Q94 1408 160 1408H1504Q1570 1408 1617.0 1361.0Q1664 1314 1664 1248Z"/></svg>
<div class="t" style="left:526.80px;top:204.72px;font-size:12.8px;line-height:19px;color:#333;font-weight:400;">10</div>
<svg class="i" style="left:584.00px;top:207.10px;width:13.00px;height:12.40px;" viewBox="0 -1504.0 1664 1587.0" preserveAspectRatio="none"><path fill="#f39200"  transform="scale(1,-1)" d="M1664 889Q1664 867 1638 841L1275 487L1361 -13Q1362 -20 1362 -33Q1362 -54 1351.5 -68.5Q1341 -83 1321 -83Q1302 -83 1281 -71L832 165L383 -71Q361 -83 343 -83Q322 -83 311.5 -68.5Q301 -54 301 -33Q301 -27 303 -13L389 487L25 841Q0 868 0 889Q0 926 56 935L558 1008L783 1463Q802 1504 832.0 1504.0Q862 1504 881 1463L1106 1008L1608 935Q1664 926 1664 889Z"/></svg>
<div class="t" style="left:606.80px;top:204.72px;font-size:12.8px;line-height:19px;color:#333;font-weight:400;">LISTADO GENERAL</div>
<div class="t" style="left:745.80px;top:204.72px;font-size:12.8px;line-height:19px;color:#333;font-weight:400;">IMPRESIÓN</div>
<div class="t" style="left:884.60px;top:204.72px;font-size:12.8px;line-height:19px;color:#333;font-weight:400;">02/07/2021 20:56:14</div>
<svg class="i" style="left:1018.00px;top:207.50px;width:12.00px;height:12.00px;" viewBox="0.0 -1408.0 1536.0 1536.0" preserveAspectRatio="none"><path fill="#555"  transform="scale(1,-1)" d="M896 992V544Q896 530 887.0 521.0Q878 512 864 512H544Q530 512 521.0 521.0Q512 530 512 544V608Q512 622 521.0 631.0Q530 640 544 640H768V992Q768 1006 777.0 1015.0Q786 1024 800 1024H864Q878 1024 887.0 1015.0Q896 1006 896 992ZM1239.0 367.0Q1312 492 1312.0 640.0Q1312 788 1239.0 913.0Q1166 1038 1041.0 1111.0Q916 1184 768.0 1184.0Q620 1184 495.0 1111.0Q370 1038 297.0 913.0Q224 788 224.0 640.0Q224 492 297.0 367.0Q370 242 495.0 169.0Q620 96 768.0 96.0Q916 96 1041.0 169.0Q1166 242 1239.0 367.0ZM1433.0 1025.5Q1536 849 1536.0 640.0Q1536 431 1433.0 254.5Q1330 78 1153.5 -25.0Q977 -128 768.0 -128.0Q559 -128 382.5 -25.0Q206 78 103.0 254.5Q0 431 0.0 640.0Q0 849 103.0 1025.5Q206 1202 382.5 1305.0Q559 1408 768.0 1408.0Q977 1408 1153.5 1305.0Q1330 1202 1433.0 1025.5Z"/></svg>
<div class="t" style="left:1044.40px;top:204.72px;font-size:12.8px;line-height:19px;color:#333;font-weight:400;">ANA PEREZ LOPEZ</div>
<div class="t" style="left:1183.40px;top:204.72px;font-size:12.8px;line-height:19px;color:#333;font-weight:400;">MANUAL</div>
<svg class="i" style="left:1297.60px;top:206.70px;width:14.02px;height:13.00px;" viewBox="-1.0138888888888857 -1536.0 1794.0277777777778 1664.0" preserveAspectRatio="none"><path fill="#f39c12"  transform="scale(1,-1)" d="M1024 161V351Q1024 365 1014.5 374.5Q1005 384 992 384H800Q787 384 777.5 374.5Q768 365 768 351V161Q768 147 777.5 137.5Q787 128 800 128H992Q1005 128 1014.5 137.5Q1024 147 1024 161ZM1022 535 1040 994Q1040 1006 1030 1013Q1017 1024 1006 1024H786Q775 1024 762 1013Q752 1006 752 992L769 535Q769 525 779.0 518.5Q789 512 803 512H988Q1002 512 1011.5 518.5Q1021 525 1022 535ZM1008 1469 1776 61Q1811 -2 1774 -65Q1757 -94 1727.5 -111.0Q1698 -128 1664 -128H128Q94 -128 64.5 -111.0Q35 -94 18 -65Q-19 -2 16 61L784 1469Q801 1500 831.0 1518.0Q861 1536 896.0 1536.0Q931 1536 961.0 1518.0Q991 1500 1008 1469Z"/></svg>
<div class="b" style="left:381px;top:253px;width:58px;height:1px;background:#d0d0d0"></div>
<svg class="i" style="left:419.20px;top:235.80px;width:10.55px;height:8.09px;" viewBox="121.0 -1202.0 1550.0 1188.0" preserveAspectRatio="none"><path fill="#e2e2e2"  transform="scale(1,-1)" d="M1643 902 919 178 783 42Q755 14 715.0 14.0Q675 14 647 42L511 178L149 540Q121 568 121.0 608.0Q121 648 149 676L285 812Q313 840 353.0 840.0Q393 840 421 812L715 517L1371 1174Q1399 1202 1439.0 1202.0Q1479 1202 1507 1174L1643 1038Q1671 1010 1671.0 970.0Q1671 930 1643 902Z"/></svg>
<svg class="i" style="left:445.30px;top:235.00px;width:11.69px;height:11.69px;" viewBox="27.0 -1536 1637.0 1637.0" preserveAspectRatio="none"><path fill="#2f82c9"  transform="scale(1,-1)" d="M1190 955 1483 1248 1376 1355 1083 1062ZM1619 1203 333 -83Q315 -101 288.0 -101.0Q261 -101 243 -83L45 115Q27 133 27.0 160.0Q27 187 45 205L1331 1491Q1349 1509 1376.0 1509.0Q1403 1509 1421 1491L1619 1293Q1637 1275 1637.0 1248.0Q1637 1221 1619 1203ZM286 1438 384 1408 286 1378 256 1280 226 1378 128 1408 226 1438 256 1536ZM636 1276 832 1216 636 1156 576 960 516 1156 320 1216 516 1276 576 1472ZM1566 798 1664 768 1566 738 1536 640 1506 738 1408 768 1506 798 1536 896ZM926 1438 1024 1408 926 1378 896 1280 866 1378 768 1408 866 1438 896 1536Z"/></svg>
<svg class="i" style="left:463.10px;top:234.70px;width:11.57px;height:11.57px;" viewBox="0 -1408 1536 1536" preserveAspectRatio="none"><path fill="#2f86d0"  transform="scale(1,-1)" d="M949.0 459.0Q1024 534 1024.0 640.0Q1024 746 949.0 821.0Q874 896 768.0 896.0Q662 896 587.0 821.0Q512 746 512.0 640.0Q512 534 587.0 459.0Q662 384 768.0 384.0Q874 384 949.0 459.0ZM1536 749V527Q1536 515 1528.0 504.0Q1520 493 1508 491L1323 463Q1304 409 1284 372Q1319 322 1391 234Q1401 222 1401.0 209.0Q1401 196 1392 186Q1365 149 1293.0 78.0Q1221 7 1199 7Q1187 7 1173 16L1035 124Q991 101 944 86Q928 -50 915 -100Q908 -128 879 -128H657Q643 -128 632.5 -119.5Q622 -111 621 -98L593 86Q544 102 503 123L362 16Q352 7 337 7Q323 7 312 18Q186 132 147 186Q140 196 140 209Q140 221 148 232Q163 253 199.0 298.5Q235 344 253 369Q226 419 212 468L29 495Q16 497 8.0 507.5Q0 518 0 531V753Q0 765 8.0 776.0Q16 787 27 789L213 817Q227 863 252 909Q212 966 145 1047Q135 1059 135 1071Q135 1081 144 1094Q170 1130 242.5 1201.5Q315 1273 337 1273Q350 1273 363 1263L501 1156Q545 1179 592 1194Q608 1330 621 1380Q628 1408 657 1408H879Q893 1408 903.5 1399.5Q914 1391 915 1378L943 1194Q992 1178 1033 1157L1175 1264Q1184 1273 1199 1273Q1212 1273 1224 1263Q1353 1144 1389 1093Q1396 1085 1396 1071Q1396 1059 1388 1048Q1373 1027 1337.0 981.5Q1301 936 1283 911Q1309 861 1324 813L1507 785Q1520 783 1528.0 772.5Q1536 762 1536 749Z"/></svg>
<div class="t" style="left:526.80px;top:231.72px;font-size:12.8px;line-height:19px;color:#333;font-weight:400;">11</div>
<svg class="i" style="left:584.00px;top:234.10px;width:13.00px;height:12.40px;" viewBox="0 -1504.0 1664 1587.0" preserveAspectRatio="none"><path fill="#f39200"  transform="scale(1,-1)" d="M1664 889Q1664 867 1638 841L1275 487L1361 -13Q1362 -20 1362 -33Q1362 -54 1351.5 -68.5Q1341 -83 1321 -83Q1302 -83 1281 -71L832 165L383 -71Q361 -83 343 -83Q322 -83 311.5 -68.5Q301 -54 301 -33Q301 -27 303 -13L389 487L25 841Q0 868 0 889Q0 926 56 935L558 1008L783 1463Q802 1504 832.0 1504.0Q862 1504 881 1463L1106 1008L1608 935Q1664 926 1664 889Z"/></svg>
<div class="t" style="left:606.80px;top:231.72px;font-size:12.8px;line-height:19px;color:#333;font-weight:400;">IMPRESION INFORMES...</div>
<div class="t" style="left:745.80px;top:231.72px;font-size:12.8px;line-height:19px;color:#333;font-weight:400;">IMPRESIÓN</div>
<div class="b" style="left:381px;top:254px;width:936px;height:27px;background:#f7f7f7"></div>
<div class="b" style="left:381px;top:280px;width:58px;height:1px;background:#d0d0d0"></div>
<svg class="i" style="left:419.20px;top:262.80px;width:10.55px;height:8.09px;" viewBox="121.0 -1202.0 1550.0 1188.0" preserveAspectRatio="none"><path fill="#e2e2e2"  transform="scale(1,-1)" d="M1643 902 919 178 783 42Q755 14 715.0 14.0Q675 14 647 42L511 178L149 540Q121 568 121.0 608.0Q121 648 149 676L285 812Q313 840 353.0 840.0Q393 840 421 812L715 517L1371 1174Q1399 1202 1439.0 1202.0Q1479 1202 1507 1174L1643 1038Q1671 1010 1671.0 970.0Q1671 930 1643 902Z"/></svg>
<svg class="i" style="left:445.30px;top:262.00px;width:11.69px;height:11.69px;" viewBox="27.0 -1536 1637.0 1637.0" preserveAspectRatio="none"><path fill="#2f82c9"  transform="scale(1,-1)" d="M1190 955 1483 1248 1376 1355 1083 1062ZM1619 1203 333 -83Q315 -101 288.0 -101.0Q261 -101 243 -83L45 115Q27 133 27.0 160.0Q27 187 45 205L1331 1491Q1349 1509 1376.0 1509.0Q1403 1509 1421 1491L1619 1293Q1637 1275 1637.0 1248.0Q1637 1221 1619 1203ZM286 1438 384 1408 286 1378 256 1280 226 1378 128 1408 226 1438 256 1536ZM636 1276 832 1216 636 1156 576 960 516 1156 320 1216 516 1276 576 1472ZM1566 798 1664 768 1566 738 1536 640 1506 738 1408 768 1506 798 1536 896ZM926 1438 1024 1408 926 1378 896 1280 866 1378 768 1408 866 1438 896 1536Z"/></svg>
<svg class="i" style="left:463.10px;top:261.70px;width:11.57px;height:11.57px;" viewBox="0 -1408 1536 1536" preserveAspectRatio="none"><path fill="#2f86d0"  transform="scale(1,-1)" d="M949.0 459.0Q1024 534 1024.0 640.0Q1024 746 949.0 821.0Q874 896 768.0 896.0Q662 896 587.0 821.0Q512 746 512.0 640.0Q512 534 587.0 459.0Q662 384 768.0 384.0Q874 384 949.0 459.0ZM1536 749V527Q1536 515 1528.0 504.0Q1520 493 1508 491L1323 463Q1304 409 1284 372Q1319 322 1391 234Q1401 222 1401.0 209.0Q1401 196 1392 186Q1365 149 1293.0 78.0Q1221 7 1199 7Q1187 7 1173 16L1035 124Q991 101 944 86Q928 -50 915 -100Q908 -128 879 -128H657Q643 -128 632.5 -119.5Q622 -111 621 -98L593 86Q544 102 503 123L362 16Q352 7 337 7Q323 7 312 18Q186 132 147 186Q140 196 140 209Q140 221 148 232Q163 253 199.0 298.5Q235 344 253 369Q226 419 212 468L29 495Q16 497 8.0 507.5Q0 518 0 531V753Q0 765 8.0 776.0Q16 787 27 789L213 817Q227 863 252 909Q212 966 145 1047Q135 1059 135 1071Q135 1081 144 1094Q170 1130 242.5 1201.5Q315 1273 337 1273Q350 1273 363 1263L501 1156Q545 1179 592 1194Q608 1330 621 1380Q628 1408 657 1408H879Q893 1408 903.5 1399.5Q914 1391 915 1378L943 1194Q992 1178 1033 1157L1175 1264Q1184 1273 1199 1273Q1212 1273 1224 1263Q1353 1144 1389 1093Q1396 1085 1396 1071Q1396 1059 1388 1048Q1373 1027 1337.0 981.5Q1301 936 1283 911Q1309 861 1324 813L1507 785Q1520 783 1528.0 772.5Q1536 762 1536 749Z"/></svg>
<div class="t" style="left:526.80px;top:258.72px;font-size:12.8px;line-height:19px;color:#333;font-weight:400;">12</div>
<svg class="i" style="left:584.00px;top:261.10px;width:13.00px;height:12.40px;" viewBox="0 -1504.0 1664 1587.0" preserveAspectRatio="none"><path fill="#f39200"  transform="scale(1,-1)" d="M1664 889Q1664 867 1638 841L1275 487L1361 -13Q1362 -20 1362 -33Q1362 -54 1351.5 -68.5Q1341 -83 1321 -83Q1302 -83 1281 -71L832 165L383 -71Q361 -83 343 -83Q322 -83 311.5 -68.5Q301 -54 301 -33Q301 -27 303 -13L389 487L25 841Q0 868 0 889Q0 926 56 935L558 1008L783 1463Q802 1504 832.0 1504.0Q862 1504 881 1463L1106 1008L1608 935Q1664 926 1664 889Z"/></svg>
<div class="t" style="left:606.80px;top:258.72px;font-size:12.8px;line-height:19px;color:#333;font-weight:400;">ESTADISTICAS</div>
<div class="t" style="left:745.80px;top:258.72px;font-size:12.8px;line-height:19px;color:#333;font-weight:400;">IMPRESIÓN</div>
<div class="b" style="left:381px;top:307px;width:58px;height:1px;background:#d0d0d0"></div>
<svg class="i" style="left:419.20px;top:289.80px;width:10.55px;height:8.09px;" viewBox="121.0 -1202.0 1550.0 1188.0" preserveAspectRatio="none"><path fill="#e2e2e2"  transform="scale(1,-1)" d="M1643 902 919 178 783 42Q755 14 715.0 14.0Q675 14 647 42L511 178L149 540Q121 568 121.0 608.0Q121 648 149 676L285 812Q313 840 353.0 840.0Q393 840 421 812L715 517L1371 1174Q1399 1202 1439.0 1202.0Q1479 1202 1507 1174L1643 1038Q1671 1010 1671.0 970.0Q1671 930 1643 902Z"/></svg>
<svg class="i" style="left:445.30px;top:289.00px;width:11.69px;height:11.69px;" viewBox="27.0 -1536 1637.0 1637.0" preserveAspectRatio="none"><path fill="#2f82c9"  transform="scale(1,-1)" d="M1190 955 1483 1248 1376 1355 1083 1062ZM1619 1203 333 -83Q315 -101 288.0 -101.0Q261 -101 243 -83L45 115Q27 133 27.0 160.0Q27 187 45 205L1331 1491Q1349 1509 1376.0 1509.0Q1403 1509 1421 1491L1619 1293Q1637 1275 1637.0 1248.0Q1637 1221 1619 1203ZM286 1438 384 1408 286 1378 256 1280 226 1378 128 1408 226 1438 256 1536ZM636 1276 832 1216 636 1156 576 960 516 1156 320 1216 516 1276 576 1472ZM1566 798 1664 768 1566 738 1536 640 1506 738 1408 768 1506 798 1536 896ZM926 1438 1024 1408 926 1378 896 1280 866 1378 768 1408 866 1438 896 1536Z"/></svg>
<svg class="i" style="left:463.10px;top:288.70px;width:11.57px;height:11.57px;" viewBox="0 -1408 1536 1536" preserveAspectRatio="none"><path fill="#2f86d0"  transform="scale(1,-1)" d="M949.0 459.0Q1024 534 1024.0 640.0Q1024 746 949.0 821.0Q874 896 768.0 896.0Q662 896 587.0 821.0Q512 746 512.0 640.0Q512 534 587.0 459.0Q662 384 768.0 384.0Q874 384 949.0 459.0ZM1536 749V527Q1536 515 1528.0 504.0Q1520 493 1508 491L1323 463Q1304 409 1284 372Q1319 322 1391 234Q1401 222 1401.0 209.0Q1401 196 1392 186Q1365 149 1293.0 78.0Q1221 7 1199 7Q1187 7 1173 16L1035 124Q991 101 944 86Q928 -50 915 -100Q908 -128 879 -128H657Q643 -128 632.5 -119.5Q622 -111 621 -98L593 86Q544 102 503 123L362 16Q352 7 337 7Q323 7 312 18Q186 132 147 186Q140 196 140 209Q140 221 148 232Q163 253 199.0 298.5Q235 344 253 369Q226 419 212 468L29 495Q16 497 8.0 507.5Q0 518 0 531V753Q0 765 8.0 776.0Q16 787 27 789L213 817Q227 863 252 909Q212 966 145 1047Q135 1059 135 1071Q135 1081 144 1094Q170 1130 242.5 1201.5Q315 1273 337 1273Q350 1273 363 1263L501 1156Q545 1179 592 1194Q608 1330 621 1380Q628 1408 657 1408H879Q893 1408 903.5 1399.5Q914 1391 915 1378L943 1194Q992 1178 1033 1157L1175 1264Q1184 1273 1199 1273Q1212 1273 1224 1263Q1353 1144 1389 1093Q1396 1085 1396 1071Q1396 1059 1388 1048Q1373 1027 1337.0 981.5Q1301 936 1283 911Q1309 861 1324 813L1507 785Q1520 783 1528.0 772.5Q1536 762 1536 749Z"/></svg>
<svg class="i" style="left:390.00px;top:289.00px;width:10.71px;height:10.71px;" viewBox="0 -1408 1536 1536" preserveAspectRatio="none"><path fill="#222"  transform="scale(1,-1)" d="M1280 576V704Q1280 730 1261.0 749.0Q1242 768 1216 768H896V1088Q896 1114 877.0 1133.0Q858 1152 832 1152H704Q678 1152 659.0 1133.0Q640 1114 640 1088V768H320Q294 768 275.0 749.0Q256 730 256 704V576Q256 550 275.0 531.0Q294 512 320 512H640V192Q640 166 659.0 147.0Q678 128 704 128H832Q858 128 877.0 147.0Q896 166 896 192V512H1216Q1242 512 1261.0 531.0Q1280 550 1280 576ZM1536 1120V160Q1536 41 1451.5 -43.5Q1367 -128 1248 -128H288Q169 -128 84.5 -43.5Q0 41 0 160V1120Q0 1239 84.5 1323.5Q169 1408 288 1408H1248Q1367 1408 1451.5 1323.5Q1536 1239 1536 1120Z"/></svg>
<svg class="i" style="left:481.00px;top:288.70px;width:11.57px;height:11.57px;" viewBox="0 -1408 1536.0 1536" preserveAspectRatio="none"><path fill="#2f86d0"  transform="scale(1,-1)" d="M768 -128Q596 -128 441.0 -55.5Q286 17 177 149Q170 159 170.5 171.5Q171 184 179 192L316 330Q326 339 341 339Q357 337 364 327Q437 232 543.0 180.0Q649 128 768 128Q872 128 966.5 168.5Q1061 209 1130.0 278.0Q1199 347 1239.5 441.5Q1280 536 1280.0 640.0Q1280 744 1239.5 838.5Q1199 933 1130.0 1002.0Q1061 1071 966.5 1111.5Q872 1152 768 1152Q670 1152 580.0 1116.5Q490 1081 420 1015L557 877Q588 847 571 808Q554 768 512 768H64Q38 768 19.0 787.0Q0 806 0 832V1280Q0 1322 40 1339Q79 1356 109 1325L239 1196Q346 1297 483.5 1352.5Q621 1408 768 1408Q924 1408 1066.0 1347.0Q1208 1286 1311.0 1183.0Q1414 1080 1475.0 938.0Q1536 796 1536.0 640.0Q1536 484 1475.0 342.0Q1414 200 1311.0 97.0Q1208 -6 1066.0 -67.0Q924 -128 768 -128ZM896 928V480Q896 466 887.0 457.0Q878 448 864 448H544Q530 448 521.0 457.0Q512 466 512 480V544Q512 558 521.0 567.0Q530 576 544 576H768V928Q768 942 777.0 951.0Q786 960 800 960H864Q878 960 887.0 951.0Q896 942 896 928Z"/></svg>
<svg class="i" style="left:498.50px;top:289.30px;width:13.46px;height:11.39px;" viewBox="0 -1408 1664 1408" preserveAspectRatio="none"><path fill="#2f86d0"  transform="scale(1,-1)" d="M512 160V352Q512 366 503.0 375.0Q494 384 480 384H160Q146 384 137.0 375.0Q128 366 128 352V160Q128 146 137.0 137.0Q146 128 160 128H480Q494 128 503.0 137.0Q512 146 512 160ZM512 544V736Q512 750 503.0 759.0Q494 768 480 768H160Q146 768 137.0 759.0Q128 750 128 736V544Q128 530 137.0 521.0Q146 512 160 512H480Q494 512 503.0 521.0Q512 530 512 544ZM1024 160V352Q1024 366 1015.0 375.0Q1006 384 992 384H672Q658 384 649.0 375.0Q640 366 640 352V160Q640 146 649.0 137.0Q658 128 672 128H992Q1006 128 1015.0 137.0Q1024 146 1024 160ZM512 928V1120Q512 1134 503.0 1143.0Q494 1152 480 1152H160Q146 1152 137.0 1143.0Q128 1134 128 1120V928Q128 914 137.0 905.0Q146 896 160 896H480Q494 896 503.0 905.0Q512 914 512 928ZM1024 544V736Q1024 750 1015.0 759.0Q1006 768 992 768H672Q658 768 649.0 759.0Q640 750 640 736V544Q640 530 649.0 521.0Q658 512 672 512H992Q1006 512 1015.0 521.0Q1024 530 1024 544ZM1536 160V352Q1536 366 1527.0 375.0Q1518 384 1504 384H1184Q1170 384 1161.0 375.0Q1152 366 1152 352V160Q1152 146 1161.0 137.0Q1170 128 1184 128H1504Q1518 128 1527.0 137.0Q1536 146 1536 160ZM1024 928V1120Q1024 1134 1015.0 1143.0Q1006 1152 992 1152H672Q658 1152 649.0 1143.0Q640 1134 640 1120V928Q640 914 649.0 905.0Q658 896 672 896H992Q1006 896 1015.0 905.0Q1024 914 1024 928ZM1536 544V736Q1536 750 1527.0 759.0Q1518 768 1504 768H1184Q1170 768 1161.0 759.0Q1152 750 1152 736V544Q1152 530 1161.0 521.0Q1170 512 1184 512H1504Q1518 512 1527.0 521.0Q1536 530 1536 544ZM1536 928V1120Q1536 1134 1527.0 1143.0Q1518 1152 1504 1152H1184Q1170 1152 1161.0 1143.0Q1152 1134 1152 1120V928Q1152 914 1161.0 905.0Q1170 896 1184 896H1504Q1518 896 1527.0 905.0Q1536 914 1536 928ZM1664 1248V160Q1664 94 1617.0 47.0Q1570 0 1504 0H160Q94 0 47.0 47.0Q0 94 0 160V1248Q0 1314 47.0 1361.0Q94 1408 160 1408H1504Q1570 1408 1617.0 1361.0Q1664 1314 1664 1248Z"/></svg>
<div class="t" style="left:526.80px;top:285.72px;font-size:12.8px;line-height:19px;color:#333;font-weight:400;">7</div>
<svg class="i" style="left:584.00px;top:288.10px;width:13.00px;height:12.40px;" viewBox="0 -1504.0 1664 1587.0" preserveAspectRatio="none"><path fill="#f39200"  transform="scale(1,-1)" d="M1664 889Q1664 867 1638 841L1275 487L1361 -13Q1362 -20 1362 -33Q1362 -54 1351.5 -68.5Q1341 -83 1321 -83Q1302 -83 1281 -71L832 165L383 -71Q361 -83 343 -83Q322 -83 311.5 -68.5Q301 -54 301 -33Q301 -27 303 -13L389 487L25 841Q0 868 0 889Q0 926 56 935L558 1008L783 1463Q802 1504 832.0 1504.0Q862 1504 881 1463L1106 1008L1608 935Q1664 926 1664 889Z"/></svg>
<div class="t" style="left:606.80px;top:285.72px;font-size:12.8px;line-height:19px;color:#333;font-weight:400;">PRUEBA INGLES</div>
<div class="t" style="left:745.80px;top:285.72px;font-size:12.8px;line-height:19px;color:#333;font-weight:400;">ALERTA</div>
<div class="t" style="left:884.60px;top:285.72px;font-size:12.8px;line-height:19px;color:#333;font-weight:400;">02/07/2021 10:24:03</div>
<svg class="i" style="left:1018.00px;top:288.50px;width:12.00px;height:12.00px;" viewBox="0.0 -1408.0 1536.0 1536.0" preserveAspectRatio="none"><path fill="#555"  transform="scale(1,-1)" d="M896 992V544Q896 530 887.0 521.0Q878 512 864 512H544Q530 512 521.0 521.0Q512 530 512 544V608Q512 622 521.0 631.0Q530 640 544 640H768V992Q768 1006 777.0 1015.0Q786 1024 800 1024H864Q878 1024 887.0 1015.0Q896 1006 896 992ZM1239.0 367.0Q1312 492 1312.0 640.0Q1312 788 1239.0 913.0Q1166 1038 1041.0 1111.0Q916 1184 768.0 1184.0Q620 1184 495.0 1111.0Q370 1038 297.0 913.0Q224 788 224.0 640.0Q224 492 297.0 367.0Q370 242 495.0 169.0Q620 96 768.0 96.0Q916 96 1041.0 169.0Q1166 242 1239.0 367.0ZM1433.0 1025.5Q1536 849 1536.0 640.0Q1536 431 1433.0 254.5Q1330 78 1153.5 -25.0Q977 -128 768.0 -128.0Q559 -128 382.5 -25.0Q206 78 103.0 254.5Q0 431 0.0 640.0Q0 849 103.0 1025.5Q206 1202 382.5 1305.0Q559 1408 768.0 1408.0Q977 1408 1153.5 1305.0Q1330 1202 1433.0 1025.5Z"/></svg>
<div class="t" style="left:1044.40px;top:285.72px;font-size:12.8px;line-height:19px;color:#333;font-weight:400;">ANA PEREZ LOPEZ</div>
<div class="t" style="left:1183.40px;top:285.72px;font-size:12.8px;line-height:19px;color:#333;font-weight:400;">MANUAL</div>
<svg class="i" style="left:1298.00px;top:288.50px;width:12.00px;height:12.00px;" viewBox="0.0 -1408.0 1536.0 1536.0" preserveAspectRatio="none"><path fill="#e0392e"  transform="scale(1,-1)" d="M382.5 1305.0Q559 1408 768.0 1408.0Q977 1408 1153.5 1305.0Q1330 1202 1433.0 1025.5Q1536 849 1536.0 640.0Q1536 431 1433.0 254.5Q1330 78 1153.5 -25.0Q977 -128 768.0 -128.0Q559 -128 382.5 -25.0Q206 78 103.0 254.5Q0 431 0.0 640.0Q0 849 103.0 1025.5Q206 1202 382.5 1305.0ZM896 161V351Q896 365 887.0 374.5Q878 384 865 384H673Q660 384 650.0 374.0Q640 364 640 351V161Q640 148 650.0 138.0Q660 128 673 128H865Q878 128 887.0 137.5Q896 147 896 161ZM894 505 912 1126Q912 1138 902 1144Q892 1152 878 1152H658Q644 1152 634 1144Q624 1138 624 1126L641 505Q641 495 651.0 487.5Q661 480 675 480H860Q874 480 883.5 487.5Q893 495 894 505Z"/></svg>
<div class="b" style="left:381px;top:308px;width:936px;height:27px;background:#f7f7f7"></div>
<div class="b" style="left:381px;top:334px;width:58px;height:1px;background:#d0d0d0"></div>
<svg class="i" style="left:419.20px;top:316.80px;width:10.55px;height:8.09px;" viewBox="121.0 -1202.0 1550.0 1188.0" preserveAspectRatio="none"><path fill="#e2e2e2"  transform="scale(1,-1)" d="M1643 902 919 178 783 42Q755 14 715.0 14.0Q675 14 647 42L511 178L149 540Q121 568 121.0 608.0Q121 648 149 676L285 812Q313 840 353.0 840.0Q393 840 421 812L715 517L1371 1174Q1399 1202 1439.0 1202.0Q1479 1202 1507 1174L1643 1038Q1671 1010 1671.0 970.0Q1671 930 1643 902Z"/></svg>
<svg class="i" style="left:445.30px;top:316.00px;width:11.69px;height:11.69px;" viewBox="27.0 -1536 1637.0 1637.0" preserveAspectRatio="none"><path fill="#2f82c9"  transform="scale(1,-1)" d="M1190 955 1483 1248 1376 1355 1083 1062ZM1619 1203 333 -83Q315 -101 288.0 -101.0Q261 -101 243 -83L45 115Q27 133 27.0 160.0Q27 187 45 205L1331 1491Q1349 1509 1376.0 1509.0Q1403 1509 1421 1491L1619 1293Q1637 1275 1637.0 1248.0Q1637 1221 1619 1203ZM286 1438 384 1408 286 1378 256 1280 226 1378 128 1408 226 1438 256 1536ZM636 1276 832 1216 636 1156 576 960 516 1156 320 1216 516 1276 576 1472ZM1566 798 1664 768 1566 738 1536 640 1506 738 1408 768 1506 798 1536 896ZM926 1438 1024 1408 926 1378 896 1280 866 1378 768 1408 866 1438 896 1536Z"/></svg>
<svg class="i" style="left:463.10px;top:315.70px;width:11.57px;height:11.57px;" viewBox="0 -1408 1536 1536" preserveAspectRatio="none"><path fill="#2f86d0"  transform="scale(1,-1)" d="M949.0 459.0Q1024 534 1024.0 640.0Q1024 746 949.0 821.0Q874 896 768.0 896.0Q662 896 587.0 821.0Q512 746 512.0 640.0Q512 534 587.0 459.0Q662 384 768.0 384.0Q874 384 949.0 459.0ZM1536 749V527Q1536 515 1528.0 504.0Q1520 493 1508 491L1323 463Q1304 409 1284 372Q1319 322 1391 234Q1401 222 1401.0 209.0Q1401 196 1392 186Q1365 149 1293.0 78.0Q1221 7 1199 7Q1187 7 1173 16L1035 124Q991 101 944 86Q928 -50 915 -100Q908 -128 879 -128H657Q643 -128 632.5 -119.5Q622 -111 621 -98L593 86Q544 102 503 123L362 16Q352 7 337 7Q323 7 312 18Q186 132 147 186Q140 196 140 209Q140 221 148 232Q163 253 199.0 298.5Q235 344 253 369Q226 419 212 468L29 495Q16 497 8.0 507.5Q0 518 0 531V753Q0 765 8.0 776.0Q16 787 27 789L213 817Q227 863 252 909Q212 966 145 1047Q135 1059 135 1071Q135 1081 144 1094Q170 1130 242.5 1201.5Q315 1273 337 1273Q350 1273 363 1263L501 1156Q545 1179 592 1194Q608 1330 621 1380Q628 1408 657 1408H879Q893 1408 903.5 1399.5Q914 1391 915 1378L943 1194Q992 1178 1033 1157L1175 1264Q1184 1273 1199 1273Q1212 1273 1224 1263Q1353 1144 1389 1093Q1396 1085 1396 1071Q1396 1059 1388 1048Q1373 1027 1337.0 981.5Q1301 936 1283 911Q1309 861 1324 813L1507 785Q1520 783 1528.0 772.5Q1536 762 1536 749Z"/></svg>
<div class="t" style="left:526.80px;top:312.72px;font-size:12.8px;line-height:19px;color:#333;font-weight:400;">5</div>
<svg class="i" style="left:584.00px;top:315.10px;width:13.00px;height:12.40px;" viewBox="0 -1504.0 1664 1587.0" preserveAspectRatio="none"><path fill="#f39200"  transform="scale(1,-1)" d="M1664 889Q1664 867 1638 841L1275 487L1361 -13Q1362 -20 1362 -33Q1362 -54 1351.5 -68.5Q1341 -83 1321 -83Q1302 -83 1281 -71L832 165L383 -71Q361 -83 343 -83Q322 -83 311.5 -68.5Q301 -54 301 -33Q301 -27 303 -13L389 487L25 841Q0 868 0 889Q0 926 56 935L558 1008L783 1463Q802 1504 832.0 1504.0Q862 1504 881 1463L1106 1008L1608 935Q1664 926 1664 889Z"/></svg>
<div class="t" style="left:606.80px;top:312.72px;font-size:12.8px;line-height:19px;color:#333;font-weight:400;">PRUEBA</div>
<div class="t" style="left:745.80px;top:312.72px;font-size:12.8px;line-height:19px;color:#333;font-weight:400;">MANIPULACION</div>
<div class="b" style="left:381px;top:361px;width:58px;height:1px;background:#d0d0d0"></div>
<svg class="i" style="left:419.20px;top:343.80px;width:10.55px;height:8.09px;" viewBox="121.0 -1202.0 1550.0 1188.0" preserveAspectRatio="none"><path fill="#e2e2e2"  transform="scale(1,-1)" d="M1643 902 919 178 783 42Q755 14 715.0 14.0Q675 14 647 42L511 178L149 540Q121 568 121.0 608.0Q121 648 149 676L285 812Q313 840 353.0 840.0Q393 840 421 812L715 517L1371 1174Q1399 1202 1439.0 1202.0Q1479 1202 1507 1174L1643 1038Q1671 1010 1671.0 970.0Q1671 930 1643 902Z"/></svg>
<svg class="i" style="left:445.30px;top:343.00px;width:11.69px;height:11.69px;" viewBox="27.0 -1536 1637.0 1637.0" preserveAspectRatio="none"><path fill="#2f82c9"  transform="scale(1,-1)" d="M1190 955 1483 1248 1376 1355 1083 1062ZM1619 1203 333 -83Q315 -101 288.0 -101.0Q261 -101 243 -83L45 115Q27 133 27.0 160.0Q27 187 45 205L1331 1491Q1349 1509 1376.0 1509.0Q1403 1509 1421 1491L1619 1293Q1637 1275 1637.0 1248.0Q1637 1221 1619 1203ZM286 1438 384 1408 286 1378 256 1280 226 1378 128 1408 226 1438 256 1536ZM636 1276 832 1216 636 1156 576 960 516 1156 320 1216 516 1276 576 1472ZM1566 798 1664 768 1566 738 1536 640 1506 738 1408 768 1506 798 1536 896ZM926 1438 1024 1408 926 1378 896 1280 866 1378 768 1408 866 1438 896 1536Z"/></svg>
<svg class="i" style="left:463.10px;top:342.70px;width:11.57px;height:11.57px;" viewBox="0 -1408 1536 1536" preserveAspectRatio="none"><path fill="#2f86d0"  transform="scale(1,-1)" d="M949.0 459.0Q1024 534 1024.0 640.0Q1024 746 949.0 821.0Q874 896 768.0 896.0Q662 896 587.0 821.0Q512 746 512.0 640.0Q512 534 587.0 459.0Q662 384 768.0 384.0Q874 384 949.0 459.0ZM1536 749V527Q1536 515 1528.0 504.0Q1520 493 1508 491L1323 463Q1304 409 1284 372Q1319 322 1391 234Q1401 222 1401.0 209.0Q1401 196 1392 186Q1365 149 1293.0 78.0Q1221 7 1199 7Q1187 7 1173 16L1035 124Q991 101 944 86Q928 -50 915 -100Q908 -128 879 -128H657Q643 -128 632.5 -119.5Q622 -111 621 -98L593 86Q544 102 503 123L362 16Q352 7 337 7Q323 7 312 18Q186 132 147 186Q140 196 140 209Q140 221 148 232Q163 253 199.0 298.5Q235 344 253 369Q226 419 212 468L29 495Q16 497 8.0 507.5Q0 518 0 531V753Q0 765 8.0 776.0Q16 787 27 789L213 817Q227 863 252 909Q212 966 145 1047Q135 1059 135 1071Q135 1081 144 1094Q170 1130 242.5 1201.5Q315 1273 337 1273Q350 1273 363 1263L501 1156Q545 1179 592 1194Q608 1330 621 1380Q628 1408 657 1408H879Q893 1408 903.5 1399.5Q914 1391 915 1378L943 1194Q992 1178 1033 1157L1175 1264Q1184 1273 1199 1273Q1212 1273 1224 1263Q1353 1144 1389 1093Q1396 1085 1396 1071Q1396 1059 1388 1048Q1373 1027 1337.0 981.5Q1301 936 1283 911Q1309 861 1324 813L1507 785Q1520 783 1528.0 772.5Q1536 762 1536 749Z"/></svg>
<div class="t" style="left:526.80px;top:339.72px;font-size:12.8px;line-height:19px;color:#333;font-weight:400;">8</div>
<svg class="i" style="left:584.00px;top:342.10px;width:13.00px;height:12.40px;" viewBox="0 -1504.0 1664 1587.0" preserveAspectRatio="none"><path fill="#f39200"  transform="scale(1,-1)" d="M1664 889Q1664 867 1638 841L1275 487L1361 -13Q1362 -20 1362 -33Q1362 -54 1351.5 -68.5Q1341 -83 1321 -83Q1302 -83 1281 -71L832 165L383 -71Q361 -83 343 -83Q322 -83 311.5 -68.5Q301 -54 301 -33Q301 -27 303 -13L389 487L25 841Q0 868 0 889Q0 926 56 935L558 1008L783 1463Q802 1504 832.0 1504.0Q862 1504 881 1463L1106 1008L1608 935Q1664 926 1664 889Z"/></svg>
<div class="t" style="left:606.80px;top:339.72px;font-size:12.8px;line-height:19px;color:#333;font-weight:400;">PRUEBA PORTUGUÉS</div>
<div class="t" style="left:745.80px;top:339.72px;font-size:12.8px;line-height:19px;color:#333;font-weight:400;">MANIPULACION</div>
<div class="b" style="left:381px;top:362px;width:936px;height:27px;background:#f7f7f7"></div>
<div class="b" style="left:381px;top:388px;width:58px;height:1px;background:#d0d0d0"></div>
<svg class="i" style="left:419.20px;top:370.80px;width:10.55px;height:8.09px;" viewBox="121.0 -1202.0 1550.0 1188.0" preserveAspectRatio="none"><path fill="#e2e2e2"  transform="scale(1,-1)" d="M1643 902 919 178 783 42Q755 14 715.0 14.0Q675 14 647 42L511 178L149 540Q121 568 121.0 608.0Q121 648 149 676L285 812Q313 840 353.0 840.0Q393 840 421 812L715 517L1371 1174Q1399 1202 1439.0 1202.0Q1479 1202 1507 1174L1643 1038Q1671 1010 1671.0 970.0Q1671 930 1643 902Z"/></svg>
<svg class="i" style="left:463.10px;top:369.70px;width:11.57px;height:11.57px;" viewBox="0 -1408 1536 1536" preserveAspectRatio="none"><path fill="#2f86d0"  transform="scale(1,-1)" d="M949.0 459.0Q1024 534 1024.0 640.0Q1024 746 949.0 821.0Q874 896 768.0 896.0Q662 896 587.0 821.0Q512 746 512.0 640.0Q512 534 587.0 459.0Q662 384 768.0 384.0Q874 384 949.0 459.0ZM1536 749V527Q1536 515 1528.0 504.0Q1520 493 1508 491L1323 463Q1304 409 1284 372Q1319 322 1391 234Q1401 222 1401.0 209.0Q1401 196 1392 186Q1365 149 1293.0 78.0Q1221 7 1199 7Q1187 7 1173 16L1035 124Q991 101 944 86Q928 -50 915 -100Q908 -128 879 -128H657Q643 -128 632.5 -119.5Q622 -111 621 -98L593 86Q544 102 503 123L362 16Q352 7 337 7Q323 7 312 18Q186 132 147 186Q140 196 140 209Q140 221 148 232Q163 253 199.0 298.5Q235 344 253 369Q226 419 212 468L29 495Q16 497 8.0 507.5Q0 518 0 531V753Q0 765 8.0 776.0Q16 787 27 789L213 817Q227 863 252 909Q212 966 145 1047Q135 1059 135 1071Q135 1081 144 1094Q170 1130 242.5 1201.5Q315 1273 337 1273Q350 1273 363 1263L501 1156Q545 1179 592 1194Q608 1330 621 1380Q628 1408 657 1408H879Q893 1408 903.5 1399.5Q914 1391 915 1378L943 1194Q992 1178 1033 1157L1175 1264Q1184 1273 1199 1273Q1212 1273 1224 1263Q1353 1144 1389 1093Q1396 1085 1396 1071Q1396 1059 1388 1048Q1373 1027 1337.0 981.5Q1301 936 1283 911Q1309 861 1324 813L1507 785Q1520 783 1528.0 772.5Q1536 762 1536 749Z"/></svg>
<div class="t" style="left:526.80px;top:366.72px;font-size:12.8px;line-height:19px;color:#333;font-weight:400;">1</div>
<svg class="i" style="left:584.00px;top:369.10px;width:13.00px;height:12.40px;" viewBox="0 -1504.0 1664 1587.0" preserveAspectRatio="none"><path fill="#f39200"  transform="scale(1,-1)" d="M1664 889Q1664 867 1638 841L1275 487L1361 -13Q1362 -20 1362 -33Q1362 -54 1351.5 -68.5Q1341 -83 1321 -83Q1302 -83 1281 -71L832 165L383 -71Q361 -83 343 -83Q322 -83 311.5 -68.5Q301 -54 301 -33Q301 -27 303 -13L389 487L25 841Q0 868 0 889Q0 926 56 935L558 1008L783 1463Q802 1504 832.0 1504.0Q862 1504 881 1463L1106 1008L1608 935Q1664 926 1664 889Z"/></svg>
<div class="t" style="left:606.80px;top:366.72px;font-size:12.8px;line-height:19px;color:#333;font-weight:400;">REGLA GLUCOSA</div>
<div class="t" style="left:745.80px;top:366.72px;font-size:12.8px;line-height:19px;color:#333;font-weight:400;">BÚSQUEDA</div>
<div class="b" style="left:381px;top:415px;width:58px;height:1px;background:#d0d0d0"></div>
<svg class="i" style="left:419.20px;top:397.80px;width:10.55px;height:8.09px;" viewBox="121.0 -1202.0 1550.0 1188.0" preserveAspectRatio="none"><path fill="#e2e2e2"  transform="scale(1,-1)" d="M1643 902 919 178 783 42Q755 14 715.0 14.0Q675 14 647 42L511 178L149 540Q121 568 121.0 608.0Q121 648 149 676L285 812Q313 840 353.0 840.0Q393 840 421 812L715 517L1371 1174Q1399 1202 1439.0 1202.0Q1479 1202 1507 1174L1643 1038Q1671 1010 1671.0 970.0Q1671 930 1643 902Z"/></svg>
<svg class="i" style="left:463.10px;top:396.70px;width:11.57px;height:11.57px;" viewBox="0 -1408 1536 1536" preserveAspectRatio="none"><path fill="#2f86d0"  transform="scale(1,-1)" d="M949.0 459.0Q1024 534 1024.0 640.0Q1024 746 949.0 821.0Q874 896 768.0 896.0Q662 896 587.0 821.0Q512 746 512.0 640.0Q512 534 587.0 459.0Q662 384 768.0 384.0Q874 384 949.0 459.0ZM1536 749V527Q1536 515 1528.0 504.0Q1520 493 1508 491L1323 463Q1304 409 1284 372Q1319 322 1391 234Q1401 222 1401.0 209.0Q1401 196 1392 186Q1365 149 1293.0 78.0Q1221 7 1199 7Q1187 7 1173 16L1035 124Q991 101 944 86Q928 -50 915 -100Q908 -128 879 -128H657Q643 -128 632.5 -119.5Q622 -111 621 -98L593 86Q544 102 503 123L362 16Q352 7 337 7Q323 7 312 18Q186 132 147 186Q140 196 140 209Q140 221 148 232Q163 253 199.0 298.5Q235 344 253 369Q226 419 212 468L29 495Q16 497 8.0 507.5Q0 518 0 531V753Q0 765 8.0 776.0Q16 787 27 789L213 817Q227 863 252 909Q212 966 145 1047Q135 1059 135 1071Q135 1081 144 1094Q170 1130 242.5 1201.5Q315 1273 337 1273Q350 1273 363 1263L501 1156Q545 1179 592 1194Q608 1330 621 1380Q628 1408 657 1408H879Q893 1408 903.5 1399.5Q914 1391 915 1378L943 1194Q992 1178 1033 1157L1175 1264Q1184 1273 1199 1273Q1212 1273 1224 1263Q1353 1144 1389 1093Q1396 1085 1396 1071Q1396 1059 1388 1048Q1373 1027 1337.0 981.5Q1301 936 1283 911Q1309 861 1324 813L1507 785Q1520 783 1528.0 772.5Q1536 762 1536 749Z"/></svg>
<div class="t" style="left:526.80px;top:393.72px;font-size:12.8px;line-height:19px;color:#333;font-weight:400;">2</div>
<svg class="i" style="left:584.00px;top:396.10px;width:13.00px;height:12.40px;" viewBox="0 -1504.0 1664 1587.0" preserveAspectRatio="none"><path fill="#f39200"  transform="scale(1,-1)" d="M1664 889Q1664 867 1638 841L1275 487L1361 -13Q1362 -20 1362 -33Q1362 -54 1351.5 -68.5Q1341 -83 1321 -83Q1302 -83 1281 -71L832 165L383 -71Q361 -83 343 -83Q322 -83 311.5 -68.5Q301 -54 301 -33Q301 -27 303 -13L389 487L25 841Q0 868 0 889Q0 926 56 935L558 1008L783 1463Q802 1504 832.0 1504.0Q862 1504 881 1463L1106 1008L1608 935Q1664 926 1664 889Z"/></svg>
<div class="t" style="left:606.80px;top:393.72px;font-size:12.8px;line-height:19px;color:#333;font-weight:400;">REGLA COLESTEROL</div>
<div class="t" style="left:745.80px;top:393.72px;font-size:12.8px;line-height:19px;color:#333;font-weight:400;">BÚSQUEDA</div>
<div class="b" style="left:381px;top:416px;width:936px;height:27px;background:#f7f7f7"></div>
<div class="b" style="left:381px;top:442px;width:58px;height:1px;background:#d0d0d0"></div>
<svg class="i" style="left:419.20px;top:424.80px;width:10.55px;height:8.09px;" viewBox="121.0 -1202.0 1550.0 1188.0" preserveAspectRatio="none"><path fill="#e2e2e2"  transform="scale(1,-1)" d="M1643 902 919 178 783 42Q755 14 715.0 14.0Q675 14 647 42L511 178L149 540Q121 568 121.0 608.0Q121 648 149 676L285 812Q313 840 353.0 840.0Q393 840 421 812L715 517L1371 1174Q1399 1202 1439.0 1202.0Q1479 1202 1507 1174L1643 1038Q1671 1010 1671.0 970.0Q1671 930 1643 902Z"/></svg>
<svg class="i" style="left:463.10px;top:423.70px;width:11.57px;height:11.57px;" viewBox="0 -1408 1536 1536" preserveAspectRatio="none"><path fill="#2f86d0"  transform="scale(1,-1)" d="M949.0 459.0Q1024 534 1024.0 640.0Q1024 746 949.0 821.0Q874 896 768.0 896.0Q662 896 587.0 821.0Q512 746 512.0 640.0Q512 534 587.0 459.0Q662 384 768.0 384.0Q874 384 949.0 459.0ZM1536 749V527Q1536 515 1528.0 504.0Q1520 493 1508 491L1323 463Q1304 409 1284 372Q1319 322 1391 234Q1401 222 1401.0 209.0Q1401 196 1392 186Q1365 149 1293.0 78.0Q1221 7 1199 7Q1187 7 1173 16L1035 124Q991 101 944 86Q928 -50 915 -100Q908 -128 879 -128H657Q643 -128 632.5 -119.5Q622 -111 621 -98L593 86Q544 102 503 123L362 16Q352 7 337 7Q323 7 312 18Q186 132 147 186Q140 196 140 209Q140 221 148 232Q163 253 199.0 298.5Q235 344 253 369Q226 419 212 468L29 495Q16 497 8.0 507.5Q0 518 0 531V753Q0 765 8.0 776.0Q16 787 27 789L213 817Q227 863 252 909Q212 966 145 1047Q135 1059 135 1071Q135 1081 144 1094Q170 1130 242.5 1201.5Q315 1273 337 1273Q350 1273 363 1263L501 1156Q545 1179 592 1194Q608 1330 621 1380Q628 1408 657 1408H879Q893 1408 903.5 1399.5Q914 1391 915 1378L943 1194Q992 1178 1033 1157L1175 1264Q1184 1273 1199 1273Q1212 1273 1224 1263Q1353 1144 1389 1093Q1396 1085 1396 1071Q1396 1059 1388 1048Q1373 1027 1337.0 981.5Q1301 936 1283 911Q1309 861 1324 813L1507 785Q1520 783 1528.0 772.5Q1536 762 1536 749Z"/></svg>
<div class="t" style="left:526.80px;top:420.72px;font-size:12.8px;line-height:19px;color:#333;font-weight:400;">3</div>
<svg class="i" style="left:584.00px;top:423.10px;width:13.00px;height:12.40px;" viewBox="0 -1504.0 1664 1587.0" preserveAspectRatio="none"><path fill="#f39200"  transform="scale(1,-1)" d="M1664 889Q1664 867 1638 841L1275 487L1361 -13Q1362 -20 1362 -33Q1362 -54 1351.5 -68.5Q1341 -83 1321 -83Q1302 -83 1281 -71L832 165L383 -71Q361 -83 343 -83Q322 -83 311.5 -68.5Q301 -54 301 -33Q301 -27 303 -13L389 487L25 841Q0 868 0 889Q0 926 56 935L558 1008L783 1463Q802 1504 832.0 1504.0Q862 1504 881 1463L1106 1008L1608 935Q1664 926 1664 889Z"/></svg>
<div class="t" style="left:606.80px;top:420.72px;font-size:12.8px;line-height:19px;color:#333;font-weight:400;">REGLA NUEVA</div>
<div class="t" style="left:745.80px;top:420.72px;font-size:12.8px;line-height:19px;color:#333;font-weight:400;">BÚSQUEDA</div>
<div class="b" style="left:381px;top:469px;width:58px;height:1px;background:#d0d0d0"></div>
<svg class="i" style="left:419.20px;top:451.80px;width:10.55px;height:8.09px;" viewBox="121.0 -1202.0 1550.0 1188.0" preserveAspectRatio="none"><path fill="#e2e2e2"  transform="scale(1,-1)" d="M1643 902 919 178 783 42Q755 14 715.0 14.0Q675 14 647 42L511 178L149 540Q121 568 121.0 608.0Q121 648 149 676L285 812Q313 840 353.0 840.0Q393 840 421 812L715 517L1371 1174Q1399 1202 1439.0 1202.0Q1479 1202 1507 1174L1643 1038Q1671 1010 1671.0 970.0Q1671 930 1643 902Z"/></svg>
<svg class="i" style="left:463.10px;top:450.70px;width:11.57px;height:11.57px;" viewBox="0 -1408 1536 1536" preserveAspectRatio="none"><path fill="#2f86d0"  transform="scale(1,-1)" d="M949.0 459.0Q1024 534 1024.0 640.0Q1024 746 949.0 821.0Q874 896 768.0 896.0Q662 896 587.0 821.0Q512 746 512.0 640.0Q512 534 587.0 459.0Q662 384 768.0 384.0Q874 384 949.0 459.0ZM1536 749V527Q1536 515 1528.0 504.0Q1520 493 1508 491L1323 463Q1304 409 1284 372Q1319 322 1391 234Q1401 222 1401.0 209.0Q1401 196 1392 186Q1365 149 1293.0 78.0Q1221 7 1199 7Q1187 7 1173 16L1035 124Q991 101 944 86Q928 -50 915 -100Q908 -128 879 -128H657Q643 -128 632.5 -119.5Q622 -111 621 -98L593 86Q544 102 503 123L362 16Q352 7 337 7Q323 7 312 18Q186 132 147 186Q140 196 140 209Q140 221 148 232Q163 253 199.0 298.5Q235 344 253 369Q226 419 212 468L29 495Q16 497 8.0 507.5Q0 518 0 531V753Q0 765 8.0 776.0Q16 787 27 789L213 817Q227 863 252 909Q212 966 145 1047Q135 1059 135 1071Q135 1081 144 1094Q170 1130 242.5 1201.5Q315 1273 337 1273Q350 1273 363 1263L501 1156Q545 1179 592 1194Q608 1330 621 1380Q628 1408 657 1408H879Q893 1408 903.5 1399.5Q914 1391 915 1378L943 1194Q992 1178 1033 1157L1175 1264Q1184 1273 1199 1273Q1212 1273 1224 1263Q1353 1144 1389 1093Q1396 1085 1396 1071Q1396 1059 1388 1048Q1373 1027 1337.0 981.5Q1301 936 1283 911Q1309 861 1324 813L1507 785Q1520 783 1528.0 772.5Q1536 762 1536 749Z"/></svg>
<div class="t" style="left:526.80px;top:447.72px;font-size:12.8px;line-height:19px;color:#333;font-weight:400;">4</div>
<svg class="i" style="left:584.00px;top:450.10px;width:13.00px;height:12.40px;" viewBox="0 -1504.0 1664 1587.0" preserveAspectRatio="none"><path fill="#f39200"  transform="scale(1,-1)" d="M1664 889Q1664 867 1638 841L1275 487L1361 -13Q1362 -20 1362 -33Q1362 -54 1351.5 -68.5Q1341 -83 1321 -83Q1302 -83 1281 -71L832 165L383 -71Q361 -83 343 -83Q322 -83 311.5 -68.5Q301 -54 301 -33Q301 -27 303 -13L389 487L25 841Q0 868 0 889Q0 926 56 935L558 1008L783 1463Q802 1504 832.0 1504.0Q862 1504 881 1463L1106 1008L1608 935Q1664 926 1664 889Z"/></svg>
<div class="t" style="left:606.80px;top:447.72px;font-size:12.8px;line-height:19px;color:#333;font-weight:400;">REGLA BUSQUEDA</div>
<div class="t" style="left:745.80px;top:447.72px;font-size:12.8px;line-height:19px;color:#333;font-weight:400;">BÚSQUEDA</div>
<div class="b" style="left:381px;top:470px;width:936px;height:27px;background:#f7f7f7"></div>
<svg class="i" style="left:419.20px;top:478.80px;width:10.55px;height:8.09px;" viewBox="121.0 -1202.0 1550.0 1188.0" preserveAspectRatio="none"><path fill="#e2e2e2"  transform="scale(1,-1)" d="M1643 902 919 178 783 42Q755 14 715.0 14.0Q675 14 647 42L511 178L149 540Q121 568 121.0 608.0Q121 648 149 676L285 812Q313 840 353.0 840.0Q393 840 421 812L715 517L1371 1174Q1399 1202 1439.0 1202.0Q1479 1202 1507 1174L1643 1038Q1671 1010 1671.0 970.0Q1671 930 1643 902Z"/></svg>
<svg class="i" style="left:463.10px;top:477.70px;width:11.57px;height:11.57px;" viewBox="0 -1408 1536 1536" preserveAspectRatio="none"><path fill="#2f86d0"  transform="scale(1,-1)" d="M949.0 459.0Q1024 534 1024.0 640.0Q1024 746 949.0 821.0Q874 896 768.0 896.0Q662 896 587.0 821.0Q512 746 512.0 640.0Q512 534 587.0 459.0Q662 384 768.0 384.0Q874 384 949.0 459.0ZM1536 749V527Q1536 515 1528.0 504.0Q1520 493 1508 491L1323 463Q1304 409 1284 372Q1319 322 1391 234Q1401 222 1401.0 209.0Q1401 196 1392 186Q1365 149 1293.0 78.0Q1221 7 1199 7Q1187 7 1173 16L1035 124Q991 101 944 86Q928 -50 915 -100Q908 -128 879 -128H657Q643 -128 632.5 -119.5Q622 -111 621 -98L593 86Q544 102 503 123L362 16Q352 7 337 7Q323 7 312 18Q186 132 147 186Q140 196 140 209Q140 221 148 232Q163 253 199.0 298.5Q235 344 253 369Q226 419 212 468L29 495Q16 497 8.0 507.5Q0 518 0 531V753Q0 765 8.0 776.0Q16 787 27 789L213 817Q227 863 252 909Q212 966 145 1047Q135 1059 135 1071Q135 1081 144 1094Q170 1130 242.5 1201.5Q315 1273 337 1273Q350 1273 363 1263L501 1156Q545 1179 592 1194Q608 1330 621 1380Q628 1408 657 1408H879Q893 1408 903.5 1399.5Q914 1391 915 1378L943 1194Q992 1178 1033 1157L1175 1264Q1184 1273 1199 1273Q1212 1273 1224 1263Q1353 1144 1389 1093Q1396 1085 1396 1071Q1396 1059 1388 1048Q1373 1027 1337.0 981.5Q1301 936 1283 911Q1309 861 1324 813L1507 785Q1520 783 1528.0 772.5Q1536 762 1536 749Z"/></svg>
<div class="t" style="left:526.80px;top:474.72px;font-size:12.8px;line-height:19px;color:#333;font-weight:400;">6</div>
<svg class="i" style="left:584.00px;top:477.10px;width:13.00px;height:12.40px;" viewBox="0 -1504.0 1664 1587.0" preserveAspectRatio="none"><path fill="#f39200"  transform="scale(1,-1)" d="M1664 889Q1664 867 1638 841L1275 487L1361 -13Q1362 -20 1362 -33Q1362 -54 1351.5 -68.5Q1341 -83 1321 -83Q1302 -83 1281 -71L832 165L383 -71Q361 -83 343 -83Q322 -83 311.5 -68.5Q301 -54 301 -33Q301 -27 303 -13L389 487L25 841Q0 868 0 889Q0 926 56 935L558 1008L783 1463Q802 1504 832.0 1504.0Q862 1504 881 1463L1106 1008L1608 935Q1664 926 1664 889Z"/></svg>
<div class="t" style="left:606.80px;top:474.72px;font-size:12.8px;line-height:19px;color:#333;font-weight:400;">RESULTADOS ANTERIO...</div>
<div class="t" style="left:745.80px;top:474.72px;font-size:12.8px;line-height:19px;color:#333;font-weight:400;">BÚSQUEDA</div>
<div class="b" style="left:521px;top:114px;width:1px;height:383px;background:#a8a8a8"></div>
<div class="b" style="left:1291px;top:114px;width:1px;height:383px;background:#a0a0a0"></div>
<div class="b" style="left:1292px;top:114px;width:25px;height:57px;background:#f2f2f2"></div>
<svg class="i" style="left:1308.00px;top:124.00px;width:12.00px;height:10.00px;" viewBox="0 -1280 1536 1280" preserveAspectRatio="none"><path fill="#222"  transform="scale(1,-1)" d="M1536 192V64Q1536 38 1517.0 19.0Q1498 0 1472 0H64Q38 0 19.0 19.0Q0 38 0 64V192Q0 218 19.0 237.0Q38 256 64 256H1472Q1498 256 1517.0 237.0Q1536 218 1536 192ZM1536 704V576Q1536 550 1517.0 531.0Q1498 512 1472 512H64Q38 512 19.0 531.0Q0 550 0 576V704Q0 730 19.0 749.0Q38 768 64 768H1472Q1498 768 1517.0 749.0Q1536 730 1536 704ZM1536 1216V1088Q1536 1062 1517.0 1043.0Q1498 1024 1472 1024H64Q38 1024 19.0 1043.0Q0 1062 0 1088V1216Q0 1242 19.0 1261.0Q38 1280 64 1280H1472Q1498 1280 1517.0 1261.0Q1536 1242 1536 1216Z"/></svg>
<div class="b" style="left:1317px;top:172px;width:10px;height:485px;background:linear-gradient(to right,#eef4fa,#dfe8f1)"></div>
<div class="b" style="left:522px;top:665px;width:768px;height:10px;background:#e6f0f8"></div>
<div class="b" style="left:530px;top:665px;width:477px;height:10px;background:#c6cdce"></div>
<div class="b" style="left:381px;top:675px;width:946px;height:1px;background:#d9d9d9"></div>
<div class="b" style="left:387px;top:686px;width:82px;height:28px;border:1px solid #dedede;border-radius:1px;background:#fff"></div>
<div class="b" style="left:414px;top:686px;width:28px;height:28px;background:#1273c4"></div>
<div class="t" style="left:424.30px;top:690.76px;font-size:13px;line-height:20px;color:#fff;font-weight:700;">1</div>
<svg class="i" style="left:398.50px;top:696.80px;width:7.28px;height:7.52px;" viewBox="45.0 -1075.0 966.0 998.0" preserveAspectRatio="none"><path fill="#888"  transform="scale(1,-1)" d="M617 137 567 87Q557 77 544.0 77.0Q531 77 521 87L55 553Q45 563 45.0 576.0Q45 589 55 599L521 1065Q531 1075 544.0 1075.0Q557 1075 567 1065L617 1015Q627 1005 627.0 992.0Q627 979 617 969L224 576L617 183Q627 173 627.0 160.0Q627 147 617 137ZM1001 137 951 87Q941 77 928.0 77.0Q915 77 905 87L439 553Q429 563 429.0 576.0Q429 589 439 599L905 1065Q915 1075 928.0 1075.0Q941 1075 951 1065L1001 1015Q1011 1005 1011.0 992.0Q1011 979 1001 969L608 576L1001 183Q1011 173 1011.0 160.0Q1011 147 1001 137Z"/></svg>
<svg class="i" style="left:451.80px;top:696.80px;width:7.28px;height:7.52px;" viewBox="13.0 -1075.0 966.0 998.0" preserveAspectRatio="none"><path fill="#888"  transform="scale(1,-1)" d="M585 553 119 87Q109 77 96.0 77.0Q83 77 73 87L23 137Q13 147 13.0 160.0Q13 173 23 183L416 576L23 969Q13 979 13.0 992.0Q13 1005 23 1015L73 1065Q83 1075 96.0 1075.0Q109 1075 119 1065L585 599Q595 589 595.0 576.0Q595 563 585 553ZM969 553 503 87Q493 77 480.0 77.0Q467 77 457 87L407 137Q397 147 397.0 160.0Q397 173 407 183L800 576L407 969Q397 979 397.0 992.0Q397 1005 407 1015L457 1065Q467 1075 480.0 1075.0Q493 1075 503 1065L969 599Q979 589 979.0 576.0Q979 563 969 553Z"/></svg>
<div class="b" style="left:489px;top:686px;width:67px;height:28px;border:1px solid #cfcfcf;border-radius:3px;background:#fff"></div>
<div class="t" style="left:503.60px;top:691.80px;font-size:12px;line-height:18px;color:#444;font-weight:400;">25</div>
<svg class="i" style="left:541.50px;top:697.00px;width:9.45px;height:6.06px;" viewBox="90.0 -1003.0 1612.0 1035.0" preserveAspectRatio="none"><path fill="#444"  transform="scale(1,-1)" d="M1683 728 941 -13Q922 -32 896.0 -32.0Q870 -32 851 -13L109 728Q90 747 90.0 773.5Q90 800 109 819L275 984Q294 1003 320.0 1003.0Q346 1003 365 984L896 453L1427 984Q1446 1003 1472.0 1003.0Q1498 1003 1517 984L1683 819Q1702 800 1702.0 773.5Q1702 747 1683 728Z"/></svg>
<div class="t" style="left:561.50px;top:688.52px;font-size:12.8px;line-height:19px;color:#333;font-weight:400;">registros por página</div>
<div class="t" style="left:1210.30px;top:688.52px;font-size:12.8px;line-height:19px;color:#333;font-weight:400;">1 - 12 de 12 registros</div>
<script>
(function(){
var W=[57.6, 219.1, 80.2, 115.5, 32.5, 31.9, 37, 117.3, 75.5, 97.4, 31.7, 161.8, 57.3, 161.8, 45.2, 161.8, 38.1, 161.8, 62, 161.8, 43.7, 161.8, 107.2, 90.5, 138.1, 11.1, 48.5, 36.6, 29.4, 71.3, 120.8, 39.9, 42.5, 35.2, 66.7, 107.3, 156.5, 77.1, 79.8, 6.3, 45, 58.6, 12.6, 95.9, 58.6, 106.9, 95.5, 45.6, 12.6, 126.1, 58.6, 12.6, 74.8, 58.6, 6.3, 82.5, 39.7, 106.9, 95.5, 45.6, 6.3, 41.8, 82.2, 6.3, 107.4, 82.2, 6.3, 86.7, 56.6, 6.3, 104.9, 56.6, 6.3, 72.8, 56.6, 6.3, 93.8, 56.6, 6.3, 124.8, 56.6, 6.6, 11.9, 101.2, 106.5];
function wd(f){var s=document.createElement('span');s.style.cssText='position:absolute;left:-9999px;top:0;font-size:40px;white-space:nowrap;font-family:'+f;s.textContent='abcdefghijklmnopqrstuvwxyz ABCDEFGHIJKLMNOPQRSTUVWXYZ 0123456789';document.body.appendChild(s);var w=s.getBoundingClientRect().width;document.body.removeChild(s);return w;}
var ok=(wd('"Roboto Condensed",monospace')!==wd('monospace'))||(wd('"Roboto Condensed",serif')!==wd('serif'));
if(ok)return;
var els=document.querySelectorAll('.t');
for(var i=0;i<els.length&&i<W.length;i++){var e=els[i];var t=e.style.transform;var a=t?e.offsetWidth:e.getBoundingClientRect().width;if(!a)continue;var k=W[i]/a;if(k>0.98)continue;
if(t){e.style.transform=t+' scaleX('+k.toFixed(4)+')';}else{e.style.transformOrigin='0 50%';e.style.transform='scaleX('+k.toFixed(4)+')';}}
})();
</script>
</body></html>
